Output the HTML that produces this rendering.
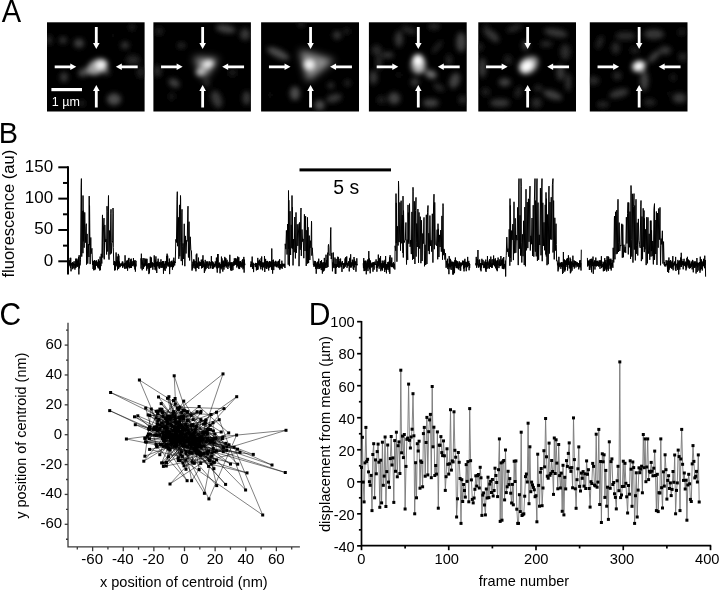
<!DOCTYPE html>
<html><head><meta charset="utf-8"><style>
html,body{margin:0;padding:0;background:#fff;width:720px;height:590px;overflow:hidden}
svg{display:block;will-change:transform}
text{font-family:"Liberation Sans", sans-serif;fill:#000}
</style></head><body>
<svg width="720" height="590" viewBox="0 0 720 590">
<rect width="720" height="590" fill="#fff"/>
<text font-size="30.6" transform="translate(1.74,22.00) scale(0.95,1)" >A</text>
<text font-size="30.4" transform="translate(-1.37,142.70) scale(0.95,1)" >B</text>
<text font-size="31.2" transform="translate(-0.43,325.03) scale(0.96,1)" >C</text>
<text font-size="31.0" transform="translate(308.63,325.20) scale(0.97,1)" >D</text>
<defs>
<filter id="bl" x="-20%" y="-20%" width="140%" height="140%"><feGaussianBlur stdDeviation="2.4"/></filter>
<filter id="bl2" x="-50%" y="-50%" width="200%" height="200%"><feGaussianBlur stdDeviation="1.4"/></filter>
<filter id="bl3" x="-50%" y="-50%" width="200%" height="200%"><feGaussianBlur stdDeviation="3.2"/></filter>
<clipPath id="c0"><rect x="47.0" y="22.3" width="97.6" height="89.2"/></clipPath>
<clipPath id="c1"><rect x="153.4" y="22.3" width="97.5" height="89.2"/></clipPath>
<clipPath id="c2"><rect x="261.1" y="22.3" width="97.89999999999998" height="89.2"/></clipPath>
<clipPath id="c3"><rect x="368.9" y="22.3" width="97.80000000000001" height="89.2"/></clipPath>
<clipPath id="c4"><rect x="478.3" y="22.3" width="97.69999999999999" height="89.2"/></clipPath>
<clipPath id="c5"><rect x="589.8" y="22.3" width="97.70000000000005" height="89.2"/></clipPath>
</defs>
<rect x="47.0" y="22.3" width="97.60" height="89.20" fill="#000"/>
<g clip-path="url(#c0)"><g filter="url(#bl)">
<ellipse cx="113.0" cy="35.3" rx="2" ry="2" transform="rotate(0 113.0 35.3)" fill="rgb(26,26,26)"/>
<ellipse cx="141.0" cy="72.3" rx="4" ry="6" transform="rotate(0 141.0 72.3)" fill="rgb(33,33,33)"/>
<ellipse cx="82.0" cy="103.3" rx="3" ry="3" transform="rotate(0 82.0 103.3)" fill="rgb(33,33,33)"/>
<ellipse cx="132.0" cy="27.3" rx="3" ry="3" transform="rotate(0 132.0 27.3)" fill="rgb(40,40,40)"/>
<ellipse cx="133.0" cy="60.3" rx="7" ry="5" transform="rotate(0 133.0 60.3)" fill="rgb(40,40,40)"/>
<ellipse cx="49.0" cy="40.3" rx="3" ry="5" transform="rotate(0 49.0 40.3)" fill="rgb(44,44,44)"/>
<ellipse cx="63.0" cy="40.3" rx="4" ry="3.5" transform="rotate(0 63.0 40.3)" fill="rgb(49,49,49)"/>
<ellipse cx="107.0" cy="72.3" rx="3" ry="3" transform="rotate(0 107.0 72.3)" fill="rgb(56,56,56)"/>
<ellipse cx="125.0" cy="45.3" rx="4" ry="3.5" transform="rotate(0 125.0 45.3)" fill="rgb(56,56,56)"/>
<ellipse cx="64.0" cy="77.3" rx="4" ry="5" transform="rotate(0 64.0 77.3)" fill="rgb(56,56,56)"/>
<ellipse cx="91.0" cy="71.3" rx="6" ry="3" transform="rotate(0 91.0 71.3)" fill="rgb(67,67,67)"/>
<ellipse cx="79.0" cy="43.3" rx="5" ry="4.5" transform="rotate(0 79.0 43.3)" fill="rgb(67,67,67)"/>
<ellipse cx="84.0" cy="72.3" rx="6" ry="4" transform="rotate(-20 84.0 72.3)" fill="rgb(78,78,78)"/>
<ellipse cx="114.0" cy="99.3" rx="7" ry="6" transform="rotate(0 114.0 99.3)" fill="rgb(78,78,78)"/>
<ellipse cx="97.5" cy="66.8" rx="11" ry="7.5" transform="rotate(-25 97.5 66.8)" fill="rgb(158,158,158)"/>
<ellipse cx="101.0" cy="64.8" rx="5.5" ry="4.5" transform="rotate(-20 101.0 64.8)" fill="rgb(242,242,242)"/>
</g></g>
<path d="M94.89999999999999,26.9 L97.7,26.9 L97.7,43.0 L99.6,43.0 L96.3,49.0 L93.0,43.0 L94.89999999999999,43.0 Z" fill="#fff"/>
<path d="M94.89999999999999,107.6 L97.7,107.6 L97.7,91.0 L99.6,91.0 L96.3,85.0 L93.0,91.0 L94.89999999999999,91.0 Z" fill="#fff"/>
<path d="M54.699999999999996,65.39999999999999 L70.3,65.39999999999999 L70.3,63.5 L76.3,66.8 L70.3,70.1 L70.3,68.2 L54.699999999999996,68.2 Z" fill="#fff"/>
<path d="M137.7,65.39999999999999 L121.8,65.39999999999999 L121.8,63.5 L115.8,66.8 L121.8,70.1 L121.8,68.2 L137.7,68.2 Z" fill="#fff"/>
<rect x="153.4" y="22.3" width="97.50" height="89.20" fill="#000"/>
<g clip-path="url(#c1)"><g filter="url(#bl)">
<g filter="url(#bl3)">
<polygon points="193.4,57.3 218.4,58.8 204.4,79.3" fill="rgb(158,158,158)"/>
</g>
<ellipse cx="232.4" cy="72.6" rx="4" ry="4" transform="rotate(0 232.4 72.6)" fill="rgb(26,26,26)"/>
<ellipse cx="171.7" cy="96.6" rx="3" ry="3" transform="rotate(0 171.7 96.6)" fill="rgb(33,33,33)"/>
<ellipse cx="159.0" cy="31.2" rx="4" ry="4" transform="rotate(0 159.0 31.2)" fill="rgb(33,33,33)"/>
<ellipse cx="157.4" cy="71.0" rx="4" ry="6" transform="rotate(0 157.4 71.0)" fill="rgb(44,44,44)"/>
<ellipse cx="181.3" cy="45.5" rx="4" ry="3" transform="rotate(0 181.3 45.5)" fill="rgb(44,44,44)"/>
<ellipse cx="206.8" cy="83.8" rx="3" ry="3" transform="rotate(0 206.8 83.8)" fill="rgb(44,44,44)"/>
<ellipse cx="216.6" cy="99.3" rx="5" ry="9" transform="rotate(-20 216.6 99.3)" fill="rgb(56,56,56)"/>
<ellipse cx="245.1" cy="34.3" rx="5" ry="6" transform="rotate(0 245.1 34.3)" fill="rgb(56,56,56)"/>
<ellipse cx="246.7" cy="98.1" rx="4" ry="7" transform="rotate(0 246.7 98.1)" fill="rgb(56,56,56)"/>
<ellipse cx="174.1" cy="83.0" rx="6" ry="4" transform="rotate(30 174.1 83.0)" fill="rgb(67,67,67)"/>
<ellipse cx="225.6" cy="28.8" rx="10" ry="4" transform="rotate(10 225.6 28.8)" fill="rgb(67,67,67)"/>
<ellipse cx="204.4" cy="67.3" rx="5" ry="5" transform="rotate(0 204.4 67.3)" fill="rgb(153,153,153)"/>
<ellipse cx="200.4" cy="72.3" rx="4.5" ry="3.5" transform="rotate(0 200.4 72.3)" fill="rgb(191,191,191)"/>
<ellipse cx="208.4" cy="63.9" rx="5.5" ry="4" transform="rotate(-10 208.4 63.9)" fill="rgb(234,234,234)"/>
</g></g>
<path d="M201.25,26.9 L204.05,26.9 L204.05,43.0 L205.95000000000002,43.0 L202.65,49.0 L199.35,43.0 L201.25,43.0 Z" fill="#fff"/>
<path d="M201.25,107.6 L204.05,107.6 L204.05,91.0 L205.95000000000002,91.0 L202.65,85.0 L199.35,91.0 L201.25,91.0 Z" fill="#fff"/>
<path d="M161.05,65.39999999999999 L176.65,65.39999999999999 L176.65,63.5 L182.65,66.8 L176.65,70.1 L176.65,68.2 L161.05,68.2 Z" fill="#fff"/>
<path d="M244.05,65.39999999999999 L228.15,65.39999999999999 L228.15,63.5 L222.15,66.8 L228.15,70.1 L228.15,68.2 L244.05,68.2 Z" fill="#fff"/>
<rect x="261.1" y="22.3" width="97.90" height="89.20" fill="#000"/>
<g clip-path="url(#c2)"><g filter="url(#bl)">
<g filter="url(#bl3)">
<polygon points="299.6,50.3 334.1,60.3 307.6,81.3" fill="rgb(158,158,158)"/>
</g>
<ellipse cx="270.2" cy="95.0" rx="2" ry="2" transform="rotate(0 270.2 95.0)" fill="rgb(26,26,26)"/>
<ellipse cx="346.7" cy="31.2" rx="3" ry="3" transform="rotate(0 346.7 31.2)" fill="rgb(33,33,33)"/>
<ellipse cx="347.5" cy="83.0" rx="3" ry="3" transform="rotate(0 347.5 83.0)" fill="rgb(44,44,44)"/>
<ellipse cx="301.3" cy="24.0" rx="3" ry="3" transform="rotate(0 301.3 24.0)" fill="rgb(44,44,44)"/>
<ellipse cx="330.8" cy="85.4" rx="3" ry="3" transform="rotate(0 330.8 85.4)" fill="rgb(56,56,56)"/>
<ellipse cx="334.0" cy="98.2" rx="8" ry="4" transform="rotate(-15 334.0 98.2)" fill="rgb(56,56,56)"/>
<ellipse cx="337.1" cy="35.2" rx="4" ry="4" transform="rotate(0 337.1 35.2)" fill="rgb(56,56,56)"/>
<ellipse cx="278.1" cy="53.5" rx="12" ry="4" transform="rotate(25 278.1 53.5)" fill="rgb(78,78,78)"/>
<ellipse cx="294.9" cy="93.4" rx="5" ry="7" transform="rotate(0 294.9 93.4)" fill="rgb(78,78,78)"/>
<ellipse cx="319.6" cy="105.3" rx="5" ry="5" transform="rotate(0 319.6 105.3)" fill="rgb(78,78,78)"/>
<ellipse cx="311.1" cy="64.3" rx="8" ry="7" transform="rotate(0 311.1 64.3)" fill="rgb(127,127,127)"/>
<ellipse cx="309.2" cy="64.7" rx="5.5" ry="5" transform="rotate(0 309.2 64.7)" fill="rgb(242,242,242)"/>
</g></g>
<path d="M309.15000000000003,26.9 L311.95,26.9 L311.95,43.0 L313.85,43.0 L310.55,49.0 L307.25,43.0 L309.15000000000003,43.0 Z" fill="#fff"/>
<path d="M309.15000000000003,107.6 L311.95,107.6 L311.95,91.0 L313.85,91.0 L310.55,85.0 L307.25,91.0 L309.15000000000003,91.0 Z" fill="#fff"/>
<path d="M268.95,65.39999999999999 L284.55,65.39999999999999 L284.55,63.5 L290.55,66.8 L284.55,70.1 L284.55,68.2 L268.95,68.2 Z" fill="#fff"/>
<path d="M351.95,65.39999999999999 L336.05,65.39999999999999 L336.05,63.5 L330.05,66.8 L336.05,70.1 L336.05,68.2 L351.95,68.2 Z" fill="#fff"/>
<rect x="368.9" y="22.3" width="97.80" height="89.20" fill="#000"/>
<g clip-path="url(#c3)"><g filter="url(#bl)">
<ellipse cx="381.4" cy="99.7" rx="4" ry="4" transform="rotate(0 381.4 99.7)" fill="rgb(33,33,33)"/>
<ellipse cx="398.9" cy="75.0" rx="2" ry="2" transform="rotate(0 398.9 75.0)" fill="rgb(33,33,33)"/>
<ellipse cx="448.9" cy="60.3" rx="3" ry="6" transform="rotate(0 448.9 60.3)" fill="rgb(40,40,40)"/>
<ellipse cx="437.2" cy="47.1" rx="2" ry="8" transform="rotate(40 437.2 47.1)" fill="rgb(44,44,44)"/>
<ellipse cx="376.6" cy="50.3" rx="5" ry="5" transform="rotate(0 376.6 50.3)" fill="rgb(44,44,44)"/>
<ellipse cx="378.9" cy="62.3" rx="3" ry="8" transform="rotate(0 378.9 62.3)" fill="rgb(44,44,44)"/>
<ellipse cx="408.9" cy="30.3" rx="8" ry="3" transform="rotate(20 408.9 30.3)" fill="rgb(44,44,44)"/>
<ellipse cx="438.9" cy="87.3" rx="6" ry="3" transform="rotate(30 438.9 87.3)" fill="rgb(44,44,44)"/>
<ellipse cx="462.7" cy="99.7" rx="4" ry="4" transform="rotate(0 462.7 99.7)" fill="rgb(44,44,44)"/>
<ellipse cx="434.0" cy="26.4" rx="6" ry="3" transform="rotate(0 434.0 26.4)" fill="rgb(44,44,44)"/>
<ellipse cx="414.9" cy="82.2" rx="4" ry="4" transform="rotate(0 414.9 82.2)" fill="rgb(56,56,56)"/>
<ellipse cx="373.4" cy="77.4" rx="4" ry="7" transform="rotate(0 373.4 77.4)" fill="rgb(56,56,56)"/>
<ellipse cx="398.9" cy="39.1" rx="4" ry="8" transform="rotate(0 398.9 39.1)" fill="rgb(56,56,56)"/>
<ellipse cx="387.7" cy="55.1" rx="6" ry="3" transform="rotate(0 387.7 55.1)" fill="rgb(56,56,56)"/>
<ellipse cx="461.1" cy="42.3" rx="5" ry="10" transform="rotate(0 461.1 42.3)" fill="rgb(67,67,67)"/>
<ellipse cx="454.7" cy="80.6" rx="5" ry="8" transform="rotate(20 454.7 80.6)" fill="rgb(67,67,67)"/>
<ellipse cx="394.1" cy="98.2" rx="6" ry="6" transform="rotate(0 394.1 98.2)" fill="rgb(67,67,67)"/>
<ellipse cx="430.8" cy="102.9" rx="8" ry="4" transform="rotate(0 430.8 102.9)" fill="rgb(67,67,67)"/>
<ellipse cx="430.8" cy="74.2" rx="6" ry="4" transform="rotate(20 430.8 74.2)" fill="rgb(114,114,114)"/>
<ellipse cx="418.4" cy="65.3" rx="8" ry="9" transform="rotate(0 418.4 65.3)" fill="rgb(127,127,127)"/>
<ellipse cx="418.9" cy="67.3" rx="4.5" ry="4.5" transform="rotate(0 418.9 67.3)" fill="rgb(191,191,191)"/>
<ellipse cx="418.0" cy="59.8" rx="5.5" ry="5.5" transform="rotate(0 418.0 59.8)" fill="rgb(255,255,255)"/>
</g></g>
<path d="M416.9,26.9 L419.69999999999993,26.9 L419.69999999999993,43.0 L421.59999999999997,43.0 L418.29999999999995,49.0 L414.99999999999994,43.0 L416.9,43.0 Z" fill="#fff"/>
<path d="M416.9,107.6 L419.69999999999993,107.6 L419.69999999999993,91.0 L421.59999999999997,91.0 L418.29999999999995,85.0 L414.99999999999994,91.0 L416.9,91.0 Z" fill="#fff"/>
<path d="M376.69999999999993,65.39999999999999 L392.29999999999995,65.39999999999999 L392.29999999999995,63.5 L398.29999999999995,66.8 L392.29999999999995,70.1 L392.29999999999995,68.2 L376.69999999999993,68.2 Z" fill="#fff"/>
<path d="M459.69999999999993,65.39999999999999 L443.79999999999995,65.39999999999999 L443.79999999999995,63.5 L437.79999999999995,66.8 L443.79999999999995,70.1 L443.79999999999995,68.2 L459.69999999999993,68.2 Z" fill="#fff"/>
<rect x="478.3" y="22.3" width="97.70" height="89.20" fill="#000"/>
<g clip-path="url(#c4)"><g filter="url(#bl)">
<ellipse cx="485.6" cy="91.8" rx="4" ry="4" transform="rotate(0 485.6 91.8)" fill="rgb(33,33,33)"/>
<ellipse cx="479.2" cy="47.1" rx="4" ry="4" transform="rotate(0 479.2 47.1)" fill="rgb(33,33,33)"/>
<ellipse cx="507.9" cy="59.9" rx="4" ry="5" transform="rotate(0 507.9 59.9)" fill="rgb(33,33,33)"/>
<ellipse cx="486.3" cy="30.3" rx="3" ry="6" transform="rotate(0 486.3 30.3)" fill="rgb(40,40,40)"/>
<ellipse cx="518.3" cy="92.3" rx="3" ry="6" transform="rotate(20 518.3 92.3)" fill="rgb(40,40,40)"/>
<ellipse cx="546.2" cy="43.9" rx="6" ry="3" transform="rotate(0 546.2 43.9)" fill="rgb(44,44,44)"/>
<ellipse cx="565.3" cy="51.9" rx="5" ry="8" transform="rotate(0 565.3 51.9)" fill="rgb(44,44,44)"/>
<ellipse cx="514.3" cy="28.3" rx="8" ry="3" transform="rotate(-20 514.3 28.3)" fill="rgb(44,44,44)"/>
<ellipse cx="538.3" cy="88.3" rx="4" ry="3" transform="rotate(0 538.3 88.3)" fill="rgb(44,44,44)"/>
<ellipse cx="536.6" cy="102.9" rx="5" ry="5" transform="rotate(0 536.6 102.9)" fill="rgb(44,44,44)"/>
<ellipse cx="568.3" cy="82.3" rx="3" ry="9" transform="rotate(0 568.3 82.3)" fill="rgb(49,49,49)"/>
<ellipse cx="492.7" cy="35.9" rx="8" ry="4" transform="rotate(45 492.7 35.9)" fill="rgb(56,56,56)"/>
<ellipse cx="555.8" cy="32.8" rx="12" ry="4" transform="rotate(10 555.8 32.8)" fill="rgb(56,56,56)"/>
<ellipse cx="560.5" cy="72.6" rx="4" ry="8" transform="rotate(0 560.5 72.6)" fill="rgb(56,56,56)"/>
<ellipse cx="482.4" cy="67.8" rx="4" ry="10" transform="rotate(0 482.4 67.8)" fill="rgb(56,56,56)"/>
<ellipse cx="499.9" cy="102.9" rx="10" ry="4" transform="rotate(0 499.9 102.9)" fill="rgb(56,56,56)"/>
<ellipse cx="525.4" cy="45.5" rx="3" ry="5" transform="rotate(0 525.4 45.5)" fill="rgb(67,67,67)"/>
<ellipse cx="552.6" cy="95.0" rx="10" ry="4" transform="rotate(20 552.6 95.0)" fill="rgb(67,67,67)"/>
<ellipse cx="504.7" cy="82.2" rx="6" ry="4" transform="rotate(0 504.7 82.2)" fill="rgb(67,67,67)"/>
<ellipse cx="528.3" cy="65.3" rx="11" ry="8.5" transform="rotate(-35 528.3 65.3)" fill="rgb(127,127,127)"/>
<ellipse cx="533.3" cy="60.3" rx="5" ry="4" transform="rotate(0 533.3 60.3)" fill="rgb(140,140,140)"/>
<ellipse cx="527.0" cy="66.2" rx="7" ry="5" transform="rotate(-35 527.0 66.2)" fill="rgb(255,255,255)"/>
</g></g>
<path d="M526.25,26.9 L529.05,26.9 L529.05,43.0 L530.9499999999999,43.0 L527.65,49.0 L524.35,43.0 L526.25,43.0 Z" fill="#fff"/>
<path d="M526.25,107.6 L529.05,107.6 L529.05,91.0 L530.9499999999999,91.0 L527.65,85.0 L524.35,91.0 L526.25,91.0 Z" fill="#fff"/>
<path d="M486.04999999999995,65.39999999999999 L501.65,65.39999999999999 L501.65,63.5 L507.65,66.8 L501.65,70.1 L501.65,68.2 L486.04999999999995,68.2 Z" fill="#fff"/>
<path d="M569.05,65.39999999999999 L553.15,65.39999999999999 L553.15,63.5 L547.15,66.8 L553.15,70.1 L553.15,68.2 L569.05,68.2 Z" fill="#fff"/>
<rect x="589.8" y="22.3" width="97.70" height="89.20" fill="#000"/>
<g clip-path="url(#c5)"><g filter="url(#bl)">
<ellipse cx="668.3" cy="93.4" rx="2" ry="2" transform="rotate(0 668.3 93.4)" fill="rgb(26,26,26)"/>
<ellipse cx="673.1" cy="77.4" rx="3" ry="3" transform="rotate(0 673.1 77.4)" fill="rgb(33,33,33)"/>
<ellipse cx="681.8" cy="32.3" rx="4" ry="3" transform="rotate(0 681.8 32.3)" fill="rgb(33,33,33)"/>
<ellipse cx="634.8" cy="50.3" rx="5" ry="3" transform="rotate(0 634.8 50.3)" fill="rgb(33,33,33)"/>
<ellipse cx="599.8" cy="42.3" rx="3" ry="7" transform="rotate(20 599.8 42.3)" fill="rgb(40,40,40)"/>
<ellipse cx="625.3" cy="35.9" rx="10" ry="4" transform="rotate(0 625.3 35.9)" fill="rgb(44,44,44)"/>
<ellipse cx="615.7" cy="47.9" rx="4" ry="6" transform="rotate(0 615.7 47.9)" fill="rgb(44,44,44)"/>
<ellipse cx="682.7" cy="56.7" rx="4" ry="4" transform="rotate(0 682.7 56.7)" fill="rgb(44,44,44)"/>
<ellipse cx="593.4" cy="80.6" rx="6" ry="4" transform="rotate(0 593.4 80.6)" fill="rgb(44,44,44)"/>
<ellipse cx="617.3" cy="75.8" rx="4" ry="4" transform="rotate(0 617.3 75.8)" fill="rgb(44,44,44)"/>
<ellipse cx="602.9" cy="104.5" rx="6" ry="3" transform="rotate(0 602.9 104.5)" fill="rgb(44,44,44)"/>
<ellipse cx="649.8" cy="102.3" rx="6" ry="3" transform="rotate(0 649.8 102.3)" fill="rgb(44,44,44)"/>
<ellipse cx="665.1" cy="50.3" rx="6" ry="4" transform="rotate(0 665.1 50.3)" fill="rgb(56,56,56)"/>
<ellipse cx="654.0" cy="34.3" rx="10" ry="5" transform="rotate(0 654.0 34.3)" fill="rgb(56,56,56)"/>
<ellipse cx="618.9" cy="93.4" rx="10" ry="4" transform="rotate(-15 618.9 93.4)" fill="rgb(56,56,56)"/>
<ellipse cx="679.5" cy="98.1" rx="7" ry="5" transform="rotate(0 679.5 98.1)" fill="rgb(56,56,56)"/>
<ellipse cx="654.0" cy="56.7" rx="8" ry="3" transform="rotate(-45 654.0 56.7)" fill="rgb(67,67,67)"/>
<ellipse cx="644.4" cy="80.6" rx="4" ry="10" transform="rotate(0 644.4 80.6)" fill="rgb(67,67,67)"/>
<ellipse cx="638.8" cy="66.2" rx="7.5" ry="6" transform="rotate(-20 638.8 66.2)" fill="rgb(127,127,127)"/>
<ellipse cx="638.8" cy="66.2" rx="5.5" ry="4.2" transform="rotate(-20 638.8 66.2)" fill="rgb(255,255,255)"/>
</g></g>
<path d="M637.75,26.9 L640.55,26.9 L640.55,43.0 L642.4499999999999,43.0 L639.15,49.0 L635.85,43.0 L637.75,43.0 Z" fill="#fff"/>
<path d="M637.75,107.6 L640.55,107.6 L640.55,91.0 L642.4499999999999,91.0 L639.15,85.0 L635.85,91.0 L637.75,91.0 Z" fill="#fff"/>
<path d="M597.55,65.39999999999999 L613.15,65.39999999999999 L613.15,63.5 L619.15,66.8 L613.15,70.1 L613.15,68.2 L597.55,68.2 Z" fill="#fff"/>
<path d="M680.55,65.39999999999999 L664.65,65.39999999999999 L664.65,63.5 L658.65,66.8 L664.65,70.1 L664.65,68.2 L680.55,68.2 Z" fill="#fff"/>
<rect x="51.4" y="88" width="30.6" height="3.2" fill="#fff"/>
<text font-size="12.8" transform="translate(51.75,105.71) scale(0.98,1)" style="fill:#fff">1 µm</text>
<g stroke="#000" stroke-width="2" fill="none" stroke-linecap="butt">
<path d="M68,166.2 L68,274.5"/>
<path d="M58.3,261.30 L68,261.30"/>
<path d="M58.3,229.97 L68,229.97"/>
<path d="M58.3,198.63 L68,198.63"/>
<path d="M58.3,167.30 L68,167.30"/>
<path d="M63,245.63 L68,245.63"/>
<path d="M63,214.30 L68,214.30"/>
<path d="M63,182.96 L68,182.96"/>
</g>
<text font-size="16.5" transform="translate(43.71,265.78) scale(1.03,1)" >0</text>
<text font-size="16.5" transform="translate(34.26,234.44) scale(1.03,1)" >50</text>
<text font-size="16.5" transform="translate(24.82,203.11) scale(1.03,1)" >100</text>
<text font-size="16.5" transform="translate(24.82,171.77) scale(1.03,1)" >150</text>
<text font-size="17.045" transform="translate(13.60,277.53) rotate(-90) scale(0.9709,1)" >fluorescence (au)</text>
<rect x="299.5" y="168.4" width="91.5" height="3.0" fill="#000"/>
<text font-size="19.6" transform="translate(333.22,194.00) scale(0.99,1)" >5 s</text>
<path d="M68.50,263.4 L68.78,266.5 L69.06,260.8 L69.34,265.3 L69.62,260.3 L69.90,265.4 L70.18,257.9 L70.46,267.8 L70.74,257.8 L71.02,271.3 L71.30,263.2 L71.58,264.6 L71.86,263.2 L72.14,266.0 L72.42,262.2 L72.70,269.2 L72.98,263.1 L73.26,264.9 L73.54,262.7 L73.82,268.2 L74.10,261.2 L74.38,265.4 L74.66,264.2 L74.94,269.6 L75.22,264.0 L75.50,267.7 L75.78,258.7 L76.06,267.7 L76.34,258.7 L76.62,265.9 L76.90,262.0 L77.18,266.8 L77.46,260.6 L77.74,266.5 L78.02,258.7 L78.30,265.4 L78.58,256.9 L78.86,274.4 L79.14,255.2 L79.42,268.3 L79.70,263.4 L79.98,265.4 L80.26,264.4 L80.54,259.9 L81.14,187.8 L81.40,178.6 L81.70,247.2 L81.74,256.6 L82.34,210.9 L82.94,253.2 L83.00,195.5 L83.30,241.4 L83.54,210.7 L84.14,247.7 L84.74,212.4 L85.34,242.7 L85.94,226.6 L86.30,223.7 L86.54,264.6 L86.60,245.3 L87.14,233.9 L87.74,263.6 L88.34,244.1 L88.94,257.0 L89.20,196.1 L89.50,245.1 L89.54,205.6 L90.14,264.1 L90.74,238.1 L90.80,237.5 L91.10,253.8 L91.34,252.0 L91.94,248.3 L92.54,264.8 L92.82,260.5 L93.10,269.0 L93.38,261.1 L93.66,270.3 L93.94,263.1 L94.22,266.9 L94.50,260.1 L94.78,270.1 L95.06,263.7 L95.34,269.2 L95.62,261.3 L95.90,265.0 L96.18,260.3 L96.46,265.6 L96.74,260.8 L97.02,265.5 L97.30,263.6 L97.58,267.0 L97.86,262.0 L98.14,268.2 L98.42,259.4 L98.70,267.4 L98.98,264.4 L99.26,268.9 L99.54,260.9 L99.82,270.6 L100.10,256.6 L100.38,270.0 L100.66,262.9 L100.94,266.1 L101.22,253.8 L101.82,263.5 L102.42,216.5 L102.50,214.9 L102.80,257.6 L103.02,242.8 L103.62,225.1 L104.00,218.1 L104.22,259.3 L104.30,255.7 L104.82,224.9 L105.42,241.9 L106.02,239.1 L106.62,254.5 L107.00,206.2 L107.22,211.4 L107.30,251.4 L107.82,251.3 L108.42,197.8 L108.50,195.5 L108.80,256.2 L109.02,259.6 L109.62,230.5 L110.22,254.4 L110.82,213.3 L111.00,209.3 L111.30,242.5 L111.42,253.4 L112.02,243.4 L112.62,240.9 L113.00,208.0 L113.22,213.1 L113.30,247.7 L113.82,265.1 L114.42,261.1 L114.70,270.5 L114.98,263.2 L115.26,270.1 L115.54,261.7 L115.82,265.0 L116.10,252.5 L116.38,265.4 L116.66,260.1 L116.94,266.4 L117.22,256.5 L117.50,270.2 L117.78,260.9 L118.06,264.8 L118.34,253.9 L118.62,268.9 L118.90,255.6 L119.18,266.3 L119.46,261.6 L119.74,267.4 L120.02,264.3 L120.30,266.7 L120.58,263.9 L120.86,266.1 L121.14,263.1 L121.42,265.1 L121.70,263.9 L121.98,266.0 L122.26,261.6 L122.54,267.7 L122.82,261.6 L123.10,265.8 L123.38,264.3 L123.66,266.3 L123.94,263.4 L124.22,267.7 L124.50,263.3 L124.78,268.9 L125.06,255.3 L125.34,264.8 L125.62,262.8 L125.90,268.6 L126.18,262.7 L126.46,268.2 L126.74,260.8 L127.02,267.4 L127.30,260.3 L127.58,270.7 L127.86,261.4 L128.14,266.5 L128.42,258.6 L128.70,267.2 L128.98,257.9 L129.26,268.3 L129.54,263.8 L129.82,267.3 L130.10,262.1 L130.38,268.0 L130.66,259.5 L130.94,265.3 L131.22,258.7 L131.50,267.9 L131.78,261.8 L132.06,264.5 L132.34,264.3 L132.62,266.1 L132.90,261.1 L133.18,264.9 L133.46,258.0 L133.74,265.6 L134.02,261.6 L134.30,267.1 L134.58,260.7 L134.86,269.5 L135.14,260.2 L135.42,271.6 L135.70,263.6 L135.98,266.4 L136.26,260.8" stroke="#000" stroke-width="1.0" fill="none"/>
<path d="M140.80,258.3 L141.08,268.6 L141.36,253.7 L141.64,264.5 L141.92,259.8 L142.20,270.3 L142.48,261.8 L142.76,265.1 L143.04,258.1 L143.32,269.0 L143.60,263.7 L143.88,267.2 L144.16,258.3 L144.44,266.4 L144.72,263.4 L145.00,266.1 L145.28,259.6 L145.56,265.1 L145.84,258.6 L146.12,265.6 L146.40,259.8 L146.68,270.6 L146.96,258.8 L147.24,265.1 L147.52,264.1 L147.80,268.7 L148.08,263.6 L148.36,267.0 L148.64,263.5 L148.92,274.1 L149.20,263.0 L149.48,272.7 L149.76,264.0 L150.04,268.1 L150.32,256.7 L150.60,267.6 L150.88,263.4 L151.16,267.5 L151.44,257.5 L151.72,265.5 L152.00,262.7 L152.28,267.1 L152.56,262.5 L152.84,269.7 L153.12,264.4 L153.40,264.6 L153.68,263.2 L153.96,266.5 L154.24,255.4 L154.52,267.0 L154.80,264.3 L155.08,269.8 L155.36,259.6 L155.64,269.1 L155.92,256.4 L156.20,270.7 L156.48,262.4 L156.76,273.0 L157.04,261.7 L157.32,266.3 L157.60,261.7 L157.88,264.8 L158.16,258.7 L158.44,266.3 L158.72,263.0 L159.00,268.3 L159.28,261.9 L159.56,268.7 L159.84,264.3 L160.12,267.5 L160.40,262.5 L160.68,264.7 L160.96,259.3 L161.24,267.9 L161.52,262.3 L161.80,265.2 L162.08,263.2 L162.36,267.7 L162.64,261.1 L162.92,265.1 L163.20,261.4 L163.48,273.7 L163.76,261.2 L164.04,265.4 L164.32,264.3 L164.60,269.6 L164.88,263.6 L165.16,271.0 L165.44,261.2 L165.72,264.5 L166.00,262.5 L166.28,268.3 L166.56,255.9 L166.84,264.8 L167.12,253.7 L167.40,265.4 L167.68,255.6 L167.96,266.5 L168.24,262.3 L168.52,265.6 L168.80,263.5 L169.08,266.6 L169.36,258.6 L169.64,274.1 L169.92,262.0 L170.20,267.3 L170.48,264.0 L170.76,265.4 L171.04,261.2 L171.32,266.3 L171.60,260.8 L171.88,267.0 L172.16,263.2 L172.44,269.7 L172.72,261.6 L173.00,264.8 L173.28,259.8 L173.56,267.2 L173.84,257.7 L174.12,264.7 L174.40,261.1 L174.68,265.5 L174.96,261.8 L175.24,263.0 L175.84,239.4 L176.44,242.5 L177.04,199.5 L177.30,191.7 L177.60,246.2 L177.64,246.2 L178.24,222.3 L178.50,217.4 L178.80,256.3 L178.84,258.8 L179.44,206.3 L179.50,204.9 L179.80,256.3 L180.04,244.2 L180.50,195.5 L180.64,199.4 L180.80,242.7 L181.24,261.1 L181.84,212.9 L182.00,209.3 L182.30,246.3 L182.44,265.2 L183.04,243.4 L183.64,259.0 L184.24,223.8 L184.84,266.2 L185.44,235.9 L186.04,253.5 L186.64,240.3 L187.24,241.3 L187.84,209.9 L188.00,206.2 L188.30,252.8 L188.44,257.5 L189.04,221.7 L189.64,260.5 L190.24,236.8 L190.84,249.9 L191.44,250.9 L192.04,270.6 L192.32,264.4 L192.60,269.2 L192.88,261.7 L193.16,267.8 L193.44,259.6 L193.72,265.8 L194.00,259.5 L194.28,265.4 L194.56,261.6 L194.84,268.3 L195.12,261.0 L195.40,269.1 L195.68,264.2 L195.96,271.3 L196.24,254.5 L196.52,267.6 L196.80,253.6 L197.08,266.3 L197.36,262.7 L197.64,267.9 L197.92,262.8 L198.20,264.9 L198.48,257.6 L198.76,269.0 L199.04,261.3 L199.32,266.1 L199.60,262.4 L199.88,266.0 L200.16,262.3 L200.44,265.5 L200.72,262.2 L201.00,265.8 L201.28,259.7 L201.56,268.4 L201.84,261.4 L202.12,267.6 L202.40,259.2 L202.68,267.9 L202.96,255.3 L203.24,267.0 L203.52,261.2 L203.80,266.1 L204.08,262.5 L204.36,272.9 L204.64,264.1 L204.92,271.2 L205.20,259.9 L205.48,269.4 L205.76,264.0 L206.04,269.1 L206.32,261.5 L206.60,266.4 L206.88,261.9 L207.16,268.0 L207.44,261.5 L207.72,265.1 L208.00,262.5 L208.28,265.7 L208.56,264.3 L208.84,269.0 L209.12,261.3 L209.40,265.1 L209.68,261.7 L209.96,265.6 L210.24,262.2 L210.52,268.3 L210.80,264.0 L211.08,265.8 L211.36,256.1 L211.64,264.5 L211.92,263.3 L212.20,268.5 L212.48,261.5 L212.76,269.0 L213.04,261.9 L213.32,268.4 L213.60,263.0 L213.88,267.3 L214.16,264.2 L214.44,266.8 L214.72,263.8 L215.00,267.3 L215.28,261.4 L215.56,265.6 L215.84,264.4 L216.12,265.1 L216.40,257.6 L216.68,268.3 L216.96,264.3 L217.24,272.6 L217.52,254.1 L217.80,268.3 L218.08,254.0 L218.36,266.5 L218.64,263.2 L218.92,267.8 L219.20,263.0 L219.48,267.0 L219.76,262.5 L220.04,273.3 L220.32,264.3 L220.60,267.9 L220.88,264.3 L221.16,269.3 L221.44,256.6 L221.72,267.8 L222.00,258.4 L222.28,266.9 L222.56,261.6 L222.84,271.6 L223.12,260.5 L223.40,267.1 L223.68,261.6 L223.96,269.6 L224.24,264.1 L224.52,266.7 L224.80,256.9 L225.08,264.6 L225.36,258.8 L225.64,266.2 L225.92,258.2 L226.20,267.6 L226.48,261.6 L226.76,266.3 L227.04,259.8 L227.32,265.6 L227.60,263.0 L227.88,269.0 L228.16,261.8 L228.44,266.5 L228.72,264.1 L229.00,265.5 L229.28,263.0 L229.56,265.2 L229.84,254.8 L230.12,267.8 L230.40,263.0 L230.68,270.4 L230.96,262.0 L231.24,269.1 L231.52,263.1 L231.80,270.8 L232.08,262.0 L232.36,266.5 L232.64,263.6 L232.92,270.1 L233.20,264.2 L233.48,265.6 L233.76,261.3 L234.04,265.7 L234.32,258.3 L234.60,264.6 L234.88,260.0 L235.16,264.7 L235.44,258.4 L235.72,264.4 L236.00,258.3 L236.28,264.9 L236.56,259.4 L236.84,267.5 L237.12,264.0 L237.40,266.1 L237.68,256.5 L237.96,265.0 L238.24,257.9 L238.52,268.2 L238.80,257.2 L239.08,269.1 L239.36,261.4 L239.64,268.8 L239.92,263.8 L240.20,267.1 L240.48,261.1 L240.76,265.4 L241.04,261.9 L241.32,266.3 L241.60,263.3 L241.88,267.7 L242.16,260.2 L242.44,266.4 L242.72,259.2 L243.00,269.3 L243.28,262.3 L243.56,268.0 L243.84,256.9 L244.12,272.6 L244.40,259.6 L244.68,265.2 L244.96,263.8" stroke="#000" stroke-width="1.0" fill="none"/>
<path d="M250.50,264.3 L250.78,267.1 L251.06,261.4 L251.34,264.8 L251.62,262.1 L251.90,267.0 L252.18,256.6 L252.46,268.8 L252.74,263.9 L253.02,268.0 L253.30,262.8 L253.58,272.1 L253.86,264.3 L254.14,264.6 L254.42,264.1 L254.70,264.5 L254.98,263.7 L255.26,266.8 L255.54,262.9 L255.82,267.1 L256.10,263.1 L256.38,270.4 L256.66,263.4 L256.94,265.7 L257.22,263.2 L257.50,269.8 L257.78,257.9 L258.06,269.5 L258.34,261.8 L258.62,264.9 L258.90,260.6 L259.18,264.5 L259.46,259.7 L259.74,265.6 L260.02,262.2 L260.30,267.3 L260.58,261.2 L260.86,269.3 L261.14,258.1 L261.42,267.0 L261.70,256.5 L261.98,266.4 L262.26,262.5 L262.54,270.3 L262.82,262.8 L263.10,266.9 L263.38,262.6 L263.66,267.4 L263.94,264.2 L264.22,266.2 L264.50,256.0 L264.78,272.0 L265.06,262.0 L265.34,265.5 L265.62,258.9 L265.90,268.2 L266.18,262.8 L266.46,268.8 L266.74,261.1 L267.02,268.6 L267.30,260.9 L267.58,266.7 L267.86,261.9 L268.14,265.8 L268.42,263.5 L268.70,270.5 L268.98,261.7 L269.26,267.8 L269.54,261.1 L269.82,266.8 L270.10,262.4 L270.38,266.6 L270.66,261.5 L270.94,267.2 L271.22,262.1 L271.50,269.7 L271.78,248.5 L272.06,265.1 L272.34,262.6 L272.62,273.6 L272.90,260.0 L273.18,266.7 L273.46,259.7 L273.74,270.1 L274.02,261.9 L274.30,265.3 L274.58,264.3 L274.86,266.4 L275.14,261.5 L275.42,265.5 L275.70,260.8 L275.98,266.5 L276.26,264.2 L276.54,267.2 L276.82,261.7 L277.10,264.9 L277.38,263.9 L277.66,266.5 L277.94,261.5 L278.22,267.8 L278.50,260.8 L278.78,265.3 L279.06,262.6 L279.34,268.5 L279.62,259.2 L279.90,269.7 L280.18,264.0 L280.46,268.2 L280.74,264.3 L281.02,264.7 L281.30,264.3 L281.58,267.8 L281.86,260.7 L282.14,268.8 L282.42,263.6 L282.70,265.5 L282.98,264.0 L283.26,266.6 L283.54,263.8 L283.82,264.5 L284.10,264.4 L284.38,266.3 L284.66,263.8 L284.94,268.0 L285.22,243.8 L285.82,249.1 L286.42,230.4 L287.02,254.5 L287.62,224.0 L288.22,264.7 L288.50,190.5 L288.80,248.9 L288.82,200.2 L289.42,266.1 L290.00,211.2 L290.02,211.6 L290.30,247.0 L290.62,255.0 L291.22,224.8 L291.82,247.9 L292.00,195.5 L292.30,248.8 L292.42,207.3 L293.02,265.4 L293.62,239.0 L294.22,252.2 L294.82,217.0 L295.42,258.4 L296.00,212.4 L296.02,212.8 L296.30,252.9 L296.62,248.7 L297.22,224.3 L297.82,245.9 L298.42,233.0 L299.00,223.7 L299.02,266.2 L299.30,242.0 L299.62,222.4 L300.22,249.8 L300.82,212.1 L301.00,208.0 L301.30,255.9 L301.42,248.3 L302.02,229.5 L302.62,241.7 L303.22,238.9 L303.82,258.2 L304.42,214.3 L305.02,251.0 L305.62,216.2 L306.22,265.9 L306.82,230.2 L307.42,263.6 L307.50,217.4 L307.80,250.5 L308.02,227.2 L308.62,263.1 L309.22,235.6 L309.82,260.0 L310.42,240.7 L311.02,247.9 L311.50,221.2 L311.62,223.3 L311.80,255.6 L312.22,247.8 L312.82,256.1 L313.42,265.0 L313.70,264.1 L313.98,266.8 L314.26,260.9 L314.54,265.8 L314.82,263.5 L315.10,266.4 L315.38,261.0 L315.66,268.8 L315.94,262.3 L316.22,273.7 L316.50,264.1 L316.78,265.8 L317.06,262.8 L317.34,267.6 L317.62,261.8 L317.90,269.1 L318.18,261.5 L318.46,266.9 L318.74,258.7 L319.02,268.8 L319.30,264.1 L319.58,268.6 L319.86,263.6 L320.14,265.2 L320.42,261.0 L320.70,268.2 L320.98,262.3 L321.26,270.1 L321.54,260.1 L321.82,267.0 L322.10,264.4 L322.38,273.6 L322.66,262.5 L322.94,268.4 L323.22,264.4 L323.50,271.4 L323.78,262.1 L324.06,270.8 L324.34,257.9 L324.62,269.4 L324.90,262.3 L325.18,265.8 L325.46,263.3 L325.74,268.0 L326.02,254.7 L326.30,264.7 L326.58,260.0 L326.86,267.9 L327.14,261.5 L327.42,266.5 L327.70,252.7 L327.98,267.0 L328.26,246.1 L328.50,244.4 L328.80,247.4 L328.86,254.2 L329.46,254.6 L330.06,255.6 L330.66,229.5 L330.80,227.5 L331.10,255.4 L331.26,259.0 L331.86,252.9 L332.46,271.3 L332.74,262.5 L333.02,267.9 L333.30,252.5 L333.58,267.0 L333.86,264.3 L334.14,268.1 L334.42,263.8 L334.70,265.5 L334.98,257.5 L335.26,273.6 L335.54,264.1 L335.82,273.8 L336.10,258.9 L336.38,268.0 L336.66,264.3 L336.94,266.5 L337.22,264.3 L337.50,266.6 L337.78,256.7 L338.06,267.0 L338.34,257.2 L338.62,267.6 L338.90,262.7 L339.18,265.0 L339.46,261.4 L339.74,267.6 L340.02,258.9 L340.30,265.2 L340.58,258.6 L340.86,266.6 L341.14,262.3 L341.42,266.7 L341.70,263.4 L341.98,271.9 L342.26,261.0 L342.54,264.6 L342.82,263.1 L343.10,264.6 L343.38,263.3 L343.66,268.8 L343.94,263.3 L344.22,268.0 L344.50,262.8 L344.78,265.2 L345.06,258.5 L345.34,266.7 L345.62,257.3 L345.90,265.2 L346.18,257.0 L346.46,264.5 L346.74,256.4 L347.02,267.9 L347.30,262.8 L347.58,266.3 L347.86,263.9 L348.14,265.9 L348.42,261.3 L348.70,264.5 L348.98,262.5 L349.26,271.4 L349.54,258.6 L349.82,267.0 L350.10,257.7 L350.38,266.9 L350.66,254.3 L350.94,267.9 L351.22,262.3 L351.50,266.7 L351.78,262.9 L352.06,266.2 L352.34,259.7 L352.62,264.6 L352.90,259.9 L353.18,268.7 L353.46,261.7 L353.74,270.0 L354.02,257.0 L354.30,267.4 L354.58,259.6 L354.86,264.8 L355.14,261.7 L355.42,265.0 L355.70,261.4 L355.98,271.7 L356.26,264.2 L356.54,265.1 L356.82,258.3 L357.10,265.3 L357.38,264.2" stroke="#000" stroke-width="1.0" fill="none"/>
<path d="M363.20,263.3 L363.48,268.2 L363.76,258.1 L364.04,271.1 L364.32,260.8 L364.60,270.8 L364.88,262.0 L365.16,266.6 L365.44,260.8 L365.72,270.6 L366.00,260.7 L366.28,274.3 L366.56,263.4 L366.84,269.4 L367.12,261.8 L367.40,268.2 L367.68,259.5 L367.96,271.1 L368.24,263.1 L368.52,267.4 L368.80,251.1 L369.08,265.0 L369.36,258.5 L369.64,269.3 L369.92,261.9 L370.20,273.3 L370.48,260.5 L370.76,265.6 L371.04,262.8 L371.32,267.5 L371.60,264.2 L371.88,265.6 L372.16,262.8 L372.44,267.1 L372.72,262.6 L373.00,271.7 L373.28,262.3 L373.56,266.0 L373.84,262.3 L374.12,269.6 L374.40,262.8 L374.68,264.6 L374.96,261.6 L375.24,265.0 L375.52,264.1 L375.80,264.8 L376.08,259.4 L376.36,267.7 L376.64,264.2 L376.92,271.7 L377.20,261.2 L377.48,267.7 L377.76,261.7 L378.04,266.0 L378.32,254.6 L378.60,266.3 L378.88,261.3 L379.16,268.7 L379.44,258.5 L379.72,264.7 L380.00,257.8 L380.28,266.7 L380.56,256.0 L380.84,271.2 L381.12,264.3 L381.40,269.4 L381.68,263.2 L381.96,268.2 L382.24,260.6 L382.52,270.5 L382.80,262.8 L383.08,268.1 L383.36,263.1 L383.64,267.2 L383.92,260.7 L384.20,265.2 L384.48,262.3 L384.76,272.0 L385.04,259.8 L385.32,269.7 L385.60,256.0 L385.88,264.9 L386.16,264.1 L386.44,273.3 L386.72,264.3 L387.00,269.2 L387.28,264.4 L387.56,267.3 L387.84,262.1 L388.12,270.0 L388.40,262.5 L388.68,267.2 L388.96,261.6 L389.24,271.9 L389.52,257.4 L389.80,273.8 L390.08,255.2 L390.36,265.4 L390.64,262.2 L390.92,266.6 L391.20,260.2 L391.48,267.1 L391.76,257.6 L392.04,266.5 L392.32,263.3 L392.60,267.0 L392.88,264.4 L393.16,267.4 L393.44,262.2 L393.72,268.4 L394.00,263.4 L394.28,264.6 L394.56,264.1 L394.84,269.5 L395.12,245.8 L395.72,250.8 L396.00,193.6 L396.30,243.1 L396.32,202.9 L396.92,261.7 L397.52,226.3 L398.12,245.5 L398.50,181.1 L398.72,188.6 L398.80,241.8 L399.32,242.0 L399.92,202.4 L400.52,250.6 L401.12,200.7 L401.72,243.3 L402.32,215.1 L402.92,253.0 L403.00,196.1 L403.30,257.5 L403.52,210.6 L404.12,242.7 L404.72,240.5 L405.32,240.1 L405.92,222.5 L406.52,264.5 L407.12,239.7 L407.72,259.9 L408.00,204.9 L408.30,242.3 L408.32,212.6 L408.92,243.8 L409.52,203.6 L410.12,246.8 L410.72,240.0 L411.32,254.1 L411.92,211.9 L412.52,259.7 L413.00,187.3 L413.12,191.2 L413.30,254.7 L413.72,259.0 L414.32,201.3 L414.92,264.0 L415.52,210.5 L416.00,197.4 L416.12,256.6 L416.30,242.8 L416.72,223.5 L417.32,247.0 L417.92,209.0 L418.52,262.8 L419.00,212.4 L419.12,214.9 L419.30,245.4 L419.72,248.6 L420.32,216.7 L420.92,263.2 L421.52,220.3 L422.12,261.0 L422.72,233.5 L423.32,243.7 L423.92,218.9 L424.00,217.4 L424.30,250.8 L424.52,266.3 L425.12,244.8 L425.72,265.0 L426.32,214.8 L426.92,264.0 L427.52,212.4 L428.00,205.5 L428.12,240.8 L428.30,250.8 L428.72,233.2 L429.32,254.1 L429.92,215.5 L430.52,245.8 L431.12,240.3 L431.72,251.7 L432.32,213.8 L432.92,262.6 L433.52,208.0 L434.00,194.2 L434.12,241.1 L434.30,249.2 L434.72,202.4 L435.32,244.3 L435.92,244.9 L436.52,245.7 L437.12,229.7 L437.72,259.3 L438.00,223.7 L438.30,241.8 L438.32,228.9 L438.92,257.0 L439.52,234.9 L440.12,247.0 L440.72,230.1 L441.32,251.7 L441.92,215.9 L442.52,259.7 L443.00,203.6 L443.12,206.6 L443.30,255.2 L443.72,249.1 L444.32,249.2 L444.92,259.6 L445.52,253.2 L446.12,267.8 L446.40,260.8 L446.68,264.5 L446.96,263.3 L447.24,267.1 L447.52,258.8 L447.80,269.1 L448.08,264.3 L448.36,265.8 L448.64,263.6 L448.92,274.2 L449.20,256.1 L449.48,266.7 L449.76,258.5 L450.04,268.7 L450.32,259.0 L450.60,266.9 L450.88,260.4 L451.16,269.9 L451.44,262.2 L451.72,266.1 L452.00,261.6 L452.28,265.9 L452.56,262.3 L452.84,274.6 L453.12,261.8 L453.40,274.4 L453.68,262.8 L453.96,269.9 L454.24,262.2 L454.52,273.2 L454.80,260.2 L455.08,265.5 L455.36,257.5 L455.64,266.3 L455.92,260.6 L456.20,268.0 L456.48,260.7 L456.76,268.1 L457.04,262.9 L457.32,268.3 L457.60,261.3 L457.88,264.5 L458.16,262.7 L458.44,269.4 L458.72,264.1 L459.00,268.0 L459.28,261.3 L459.56,265.7 L459.84,263.6 L460.12,270.4 L460.40,262.5 L460.68,270.7 L460.96,264.1 L461.24,266.3 L461.52,262.9 L461.80,264.8 L462.08,262.3 L462.36,264.7 L462.64,260.6 L462.92,265.2 L463.20,261.2 L463.48,268.6 L463.76,260.9 L464.04,271.4 L464.32,260.5 L464.60,268.1 L464.88,258.8 L465.16,267.2 L465.44,261.8 L465.72,264.6 L466.00,263.3 L466.28,271.2 L466.56,262.3 L466.84,265.8 L467.12,261.7 L467.40,267.2 L467.68,256.9 L467.96,265.2 L468.24,262.0 L468.52,265.9 L468.80,260.9 L469.08,270.3 L469.36,263.0 L469.64,268.0 L469.92,264.1" stroke="#000" stroke-width="1.0" fill="none"/>
<path d="M475.70,263.2 L475.98,265.4 L476.26,256.9 L476.54,267.7 L476.82,259.4 L477.10,265.5 L477.38,259.2 L477.66,264.6 L477.94,250.0 L478.22,267.4 L478.50,264.0 L478.78,267.6 L479.06,260.0 L479.34,266.5 L479.62,259.5 L479.90,265.5 L480.18,263.6 L480.46,270.0 L480.74,263.0 L481.02,271.3 L481.30,263.0 L481.58,267.5 L481.86,258.8 L482.14,264.7 L482.42,263.3 L482.70,265.2 L482.98,259.9 L483.26,264.8 L483.54,264.1 L483.82,268.1 L484.10,261.4 L484.38,267.6 L484.66,263.7 L484.94,266.7 L485.22,262.1 L485.50,270.4 L485.78,259.6 L486.06,271.9 L486.34,262.2 L486.62,269.1 L486.90,263.8 L487.18,268.6 L487.46,256.0 L487.74,265.3 L488.02,262.1 L488.30,264.8 L488.58,263.6 L488.86,268.3 L489.14,260.7 L489.42,268.7 L489.70,259.2 L489.98,265.7 L490.26,261.9 L490.54,267.0 L490.82,256.6 L491.10,266.3 L491.38,263.6 L491.66,267.8 L491.94,259.5 L492.22,267.8 L492.50,263.4 L492.78,265.1 L493.06,259.1 L493.34,264.6 L493.62,255.5 L493.90,265.2 L494.18,259.3 L494.46,266.3 L494.74,262.5 L495.02,265.7 L495.30,258.3 L495.58,268.3 L495.86,260.2 L496.14,267.1 L496.42,261.3 L496.70,270.1 L496.98,263.9 L497.26,271.2 L497.54,260.1 L497.82,265.0 L498.10,257.6 L498.38,265.2 L498.66,263.9 L498.94,268.1 L499.22,261.2 L499.50,266.1 L499.78,259.4 L500.06,264.5 L500.34,262.9 L500.62,266.1 L500.90,256.0 L501.18,265.5 L501.46,259.8 L501.74,264.9 L502.02,263.1 L502.30,268.6 L502.58,259.4 L502.86,268.5 L503.14,258.0 L503.42,269.0 L503.70,257.0 L503.98,269.2 L504.26,263.9 L504.54,267.4 L504.82,264.1 L505.10,267.1 L505.38,260.6 L505.66,276.5 L505.94,260.1 L506.22,255.7 L506.82,237.1 L507.42,251.8 L508.02,248.6 L508.62,256.6 L509.22,229.3 L509.82,265.7 L510.00,198.6 L510.30,258.0 L510.42,205.5 L511.02,261.8 L511.62,230.6 L512.22,239.9 L512.82,224.1 L513.42,260.1 L514.00,201.8 L514.02,202.3 L514.30,240.5 L514.62,253.2 L515.22,218.3 L515.82,252.8 L516.42,235.0 L517.02,240.2 L517.62,207.4 L518.22,265.1 L518.82,185.0 L519.00,178.6 L519.30,245.2 L519.42,248.7 L520.02,215.3 L520.62,255.6 L521.00,178.6 L521.22,186.4 L521.30,242.9 L521.82,262.5 L522.42,234.3 L523.02,256.2 L523.62,220.8 L524.22,265.0 L524.82,207.1 L525.42,266.3 L526.00,189.2 L526.02,189.4 L526.30,250.4 L526.62,249.3 L527.22,202.1 L527.82,248.1 L528.42,198.8 L529.02,241.8 L529.62,198.3 L530.00,186.1 L530.22,241.3 L530.30,250.5 L530.82,235.8 L531.42,244.2 L532.02,218.0 L532.62,256.0 L533.22,205.2 L533.82,256.7 L534.42,199.1 L535.00,178.6 L535.02,247.6 L535.30,251.7 L535.62,200.6 L536.22,256.4 L536.82,185.0 L537.00,178.6 L537.30,242.9 L537.42,260.9 L538.02,202.6 L538.62,259.8 L539.22,234.8 L539.82,245.0 L540.42,188.1 L541.02,255.3 L541.62,192.0 L542.00,178.6 L542.22,261.2 L542.30,249.5 L542.82,202.8 L543.42,245.9 L544.02,222.3 L544.62,250.3 L545.22,204.8 L545.82,254.5 L546.00,192.4 L546.30,256.5 L546.42,198.7 L547.02,265.2 L547.62,214.5 L548.22,264.2 L548.82,191.9 L549.00,186.1 L549.30,253.6 L549.42,248.0 L550.02,202.1 L550.62,239.4 L551.22,197.2 L551.82,239.7 L552.42,184.3 L553.00,178.6 L553.02,252.5 L553.30,240.9 L553.62,200.6 L554.22,259.4 L554.82,217.8 L555.42,250.6 L556.00,223.7 L556.02,224.0 L556.30,244.4 L556.62,261.0 L557.22,260.5 L557.50,265.3 L557.78,263.4 L558.06,271.4 L558.34,262.7 L558.62,269.4 L558.90,256.8 L559.18,267.2 L559.46,263.6 L559.74,265.4 L560.02,262.4 L560.30,265.8 L560.58,263.0 L560.86,268.8 L561.14,263.7 L561.42,267.0 L561.70,262.1 L561.98,265.8 L562.26,262.4 L562.54,273.9 L562.82,264.0 L563.10,273.0 L563.38,252.0 L563.66,266.6 L563.94,263.9 L564.22,269.6 L564.50,259.5 L564.78,271.6 L565.06,260.3 L565.34,270.2 L565.62,260.7 L565.90,265.2 L566.18,262.8 L566.46,264.9 L566.74,259.1 L567.02,267.0 L567.30,258.0 L567.58,270.6 L567.86,261.2 L568.14,265.0 L568.42,255.3 L568.70,264.6 L568.98,260.9 L569.26,268.5 L569.54,262.4 L569.82,266.8 L570.10,257.6 L570.38,273.3 L570.66,259.1 L570.94,272.3 L571.22,262.3 L571.50,268.2 L571.78,261.4 L572.06,270.7 L572.34,262.8 L572.62,265.1 L572.90,255.7 L573.18,266.9 L573.46,263.2 L573.74,266.1 L574.02,260.3 L574.30,268.6 L574.58,261.1 L574.86,265.7 L575.14,262.2 L575.42,264.7 L575.70,261.0 L575.98,267.5 L576.26,262.1 L576.54,264.9 L576.82,262.7 L577.10,266.4 L577.38,262.4 L577.66,266.5 L577.94,263.9 L578.22,264.9 L578.50,263.1 L578.78,269.4 L579.06,264.4 L579.34,266.7 L579.62,260.7 L579.90,267.4 L580.18,260.0 L580.46,267.1 L580.74,263.1 L581.02,270.5 L581.30,249.7" stroke="#000" stroke-width="1.0" fill="none"/>
<path d="M587.40,257.9 L587.68,266.5 L587.96,261.5 L588.24,265.1 L588.52,261.0 L588.80,265.6 L589.08,260.1 L589.36,270.0 L589.64,260.8 L589.92,269.8 L590.20,259.0 L590.48,265.2 L590.76,260.9 L591.04,267.5 L591.32,258.7 L591.60,272.3 L591.88,261.1 L592.16,266.1 L592.44,259.4 L592.72,266.1 L593.00,256.6 L593.28,273.8 L593.56,262.5 L593.84,265.1 L594.12,261.5 L594.40,265.8 L594.68,260.3 L594.96,269.5 L595.24,261.2 L595.52,265.9 L595.80,257.6 L596.08,266.3 L596.36,260.9 L596.64,266.3 L596.92,261.4 L597.20,264.5 L597.48,261.0 L597.76,266.0 L598.04,260.6 L598.32,265.8 L598.60,262.1 L598.88,266.8 L599.16,262.2 L599.44,265.7 L599.72,260.4 L600.00,268.8 L600.28,260.3 L600.56,265.7 L600.84,261.6 L601.12,265.8 L601.40,256.2 L601.68,268.1 L601.96,261.6 L602.24,267.0 L602.52,264.2 L602.80,264.5 L603.08,264.4 L603.36,271.3 L603.64,262.4 L603.92,268.5 L604.20,261.5 L604.48,270.9 L604.76,258.1 L605.04,269.3 L605.32,261.9 L605.60,268.2 L605.88,260.0 L606.16,270.3 L606.44,263.6 L606.72,271.5 L607.00,256.3 L607.28,266.5 L607.56,259.8 L607.84,269.4 L608.12,256.3 L608.40,270.8 L608.68,257.0 L608.96,268.8 L609.24,261.7 L609.52,264.5 L609.80,258.8 L610.08,265.7 L610.36,259.6 L610.64,268.7 L610.92,258.7 L611.20,270.5 L611.48,263.0 L611.76,267.2 L612.04,260.0 L612.32,265.7 L612.60,262.7 L612.88,267.8 L613.16,247.8 L613.76,262.5 L614.36,218.9 L614.50,216.2 L614.80,254.1 L614.96,259.3 L615.56,211.8 L616.16,254.2 L616.76,210.2 L617.36,253.6 L617.96,200.3 L618.00,199.3 L618.30,242.5 L618.56,252.0 L619.16,222.6 L619.76,251.0 L620.36,245.0 L620.96,246.0 L621.56,224.1 L622.00,223.7 L622.16,243.0 L622.30,257.7 L622.76,224.6 L623.36,257.3 L623.96,244.7 L624.56,252.3 L625.16,246.8 L625.76,252.8 L626.36,217.2 L626.96,243.5 L627.56,213.5 L628.00,202.4 L628.16,242.1 L628.30,254.4 L628.76,202.6 L629.36,247.3 L629.96,211.6 L630.56,259.0 L631.00,185.5 L631.16,190.7 L631.30,239.4 L631.76,256.6 L632.36,193.8 L632.96,262.6 L633.56,206.4 L634.00,193.6 L634.16,244.0 L634.30,249.6 L634.76,205.5 L635.36,260.4 L635.96,200.3 L636.00,199.3 L636.30,253.9 L636.56,245.3 L637.16,222.7 L637.76,255.5 L638.36,218.9 L638.96,240.4 L639.56,244.5 L640.16,247.9 L640.76,206.8 L641.00,200.5 L641.30,240.1 L641.36,261.1 L641.96,216.6 L642.56,259.2 L643.16,208.3 L643.76,246.8 L644.00,210.5 L644.30,252.1 L644.36,218.4 L644.96,249.3 L645.56,229.3 L646.16,265.1 L646.76,217.2 L647.36,263.4 L647.96,218.2 L648.00,217.4 L648.30,250.5 L648.56,253.6 L649.16,233.8 L649.76,259.8 L650.36,220.8 L650.96,256.6 L651.00,220.6 L651.30,251.1 L651.56,230.3 L652.16,256.1 L652.76,241.0 L653.36,264.4 L653.96,208.8 L654.50,203.6 L654.56,259.8 L654.80,251.7 L655.16,220.0 L655.76,254.0 L656.36,211.5 L656.96,264.9 L657.56,213.0 L658.16,247.7 L658.76,208.5 L659.36,239.7 L659.96,208.3 L660.00,207.4 L660.30,245.6 L660.56,265.3 L661.16,238.6 L661.76,244.4 L662.36,230.8 L662.96,263.6 L663.56,241.6 L664.16,265.1 L664.44,262.0 L664.72,266.3 L665.00,264.3 L665.28,264.7 L665.56,264.3 L665.84,266.5 L666.12,260.2 L666.40,264.9 L666.68,262.9 L666.96,265.4 L667.24,260.6 L667.52,271.8 L667.80,263.3 L668.08,268.6 L668.36,260.5 L668.64,272.7 L668.92,257.5 L669.20,269.7 L669.48,260.9 L669.76,267.5 L670.04,262.2 L670.32,267.7 L670.60,260.1 L670.88,266.0 L671.16,264.4 L671.44,268.3 L671.72,261.7 L672.00,268.8 L672.28,260.8 L672.56,266.9 L672.84,256.1 L673.12,270.3 L673.40,263.3 L673.68,266.2 L673.96,262.7 L674.24,265.2 L674.52,261.5 L674.80,265.2 L675.08,262.9 L675.36,269.6 L675.64,256.9 L675.92,271.0 L676.20,264.2 L676.48,265.1 L676.76,264.0 L677.04,267.5 L677.32,262.8 L677.60,269.8 L677.88,259.9 L678.16,266.0 L678.44,261.4 L678.72,274.4 L679.00,262.1 L679.28,267.3 L679.56,260.5 L679.84,269.6 L680.12,261.3 L680.40,265.2 L680.68,257.5 L680.96,267.0 L681.24,252.8 L681.52,266.8 L681.80,258.9 L682.08,264.5 L682.36,261.4 L682.64,265.2 L682.92,261.5 L683.20,269.3 L683.48,261.3 L683.76,264.9 L684.04,258.8 L684.32,265.6 L684.60,262.9 L684.88,265.6 L685.16,261.5 L685.44,267.1 L685.72,262.5 L686.00,270.4 L686.28,262.3 L686.56,268.5 L686.84,258.2 L687.12,265.6 L687.40,256.8 L687.68,264.5 L687.96,263.9 L688.24,267.6 L688.52,259.6 L688.80,265.4 L689.08,262.4 L689.36,268.7 L689.64,260.6 L689.92,265.1 L690.20,264.2 L690.48,268.1 L690.76,263.6 L691.04,265.1 L691.32,261.5 L691.60,266.7 L691.88,262.5 L692.16,269.4 L692.44,259.9 L692.72,265.2 L693.00,260.6 L693.28,272.3 L693.56,263.0 L693.84,265.9 L694.12,262.0 L694.40,267.7 L694.68,261.5 L694.96,267.8 L695.24,261.4 L695.52,266.3 L695.80,263.7 L696.08,273.5 L696.36,262.6 L696.64,265.6 L696.92,258.0 L697.20,272.0 L697.48,262.6 L697.76,267.3 L698.04,264.0 L698.32,264.8 L698.60,262.8 L698.88,270.6 L699.16,262.9 L699.44,265.5 L699.72,262.0 L700.00,272.7 L700.28,256.7 L700.56,270.2 L700.84,259.2 L701.12,264.7 L701.40,259.5 L701.68,269.0 L701.96,260.9 L702.24,270.5 L702.52,262.3 L702.80,266.5 L703.08,263.0 L703.36,265.8 L703.64,258.8 L703.92,266.1 L704.20,262.4 L704.48,268.2 L704.76,255.7 L705.04,264.9 L705.32,260.0 L705.60,276.7" stroke="#000" stroke-width="1.0" fill="none"/>
<g stroke="#3a3a3a" stroke-width="1.3" fill="none">
<path d="M68.0,322.7 L68.0,546.9 L299.9,546.9"/>
<path d="M64.7,524.30 L68.0,524.30"/>
<path d="M92.62,546.9 L92.62,551.2"/>
<path d="M64.7,494.43 L68.0,494.43"/>
<path d="M123.24,546.9 L123.24,551.2"/>
<path d="M64.7,464.57 L68.0,464.57"/>
<path d="M153.87,546.9 L153.87,551.2"/>
<path d="M64.7,434.70 L68.0,434.70"/>
<path d="M184.50,546.9 L184.50,551.2"/>
<path d="M64.7,404.83 L68.0,404.83"/>
<path d="M215.13,546.9 L215.13,551.2"/>
<path d="M64.7,374.97 L68.0,374.97"/>
<path d="M245.76,546.9 L245.76,551.2"/>
<path d="M64.7,345.10 L68.0,345.10"/>
<path d="M276.38,546.9 L276.38,551.2"/>
<path d="M66,539.23 L68.0,539.23"/>
<path d="M77.30,546.9 L77.30,549.6"/>
<path d="M66,509.37 L68.0,509.37"/>
<path d="M107.93,546.9 L107.93,549.6"/>
<path d="M66,479.50 L68.0,479.50"/>
<path d="M138.56,546.9 L138.56,549.6"/>
<path d="M66,449.63 L68.0,449.63"/>
<path d="M169.19,546.9 L169.19,549.6"/>
<path d="M66,419.77 L68.0,419.77"/>
<path d="M199.81,546.9 L199.81,549.6"/>
<path d="M66,389.90 L68.0,389.90"/>
<path d="M230.44,546.9 L230.44,549.6"/>
<path d="M66,360.03 L68.0,360.03"/>
<path d="M261.07,546.9 L261.07,549.6"/>
<path d="M66,330.17 L68.0,330.17"/>
<path d="M291.70,546.9 L291.70,549.6"/>
</g>
<text font-size="15.0" transform="translate(40.41,528.36) scale(1.0,1)" >-60</text>
<text font-size="14.8" transform="translate(81.27,564.04) scale(1.02,1)" >-60</text>
<text font-size="15.0" transform="translate(40.41,498.49) scale(1.0,1)" >-40</text>
<text font-size="14.8" transform="translate(111.90,564.04) scale(1.02,1)" >-40</text>
<text font-size="15.0" transform="translate(40.41,468.63) scale(1.0,1)" >-20</text>
<text font-size="14.8" transform="translate(142.53,564.04) scale(1.02,1)" >-20</text>
<text font-size="15.0" transform="translate(53.74,438.76) scale(1.0,1)" >0</text>
<text font-size="14.8" transform="translate(180.30,564.04) scale(1.02,1)" >0</text>
<text font-size="15.0" transform="translate(45.41,408.89) scale(1.0,1)" >20</text>
<text font-size="14.8" transform="translate(206.65,564.04) scale(1.02,1)" >20</text>
<text font-size="15.0" transform="translate(45.41,379.03) scale(1.0,1)" >40</text>
<text font-size="14.8" transform="translate(237.48,564.04) scale(1.02,1)" >40</text>
<text font-size="15.0" transform="translate(45.41,349.16) scale(1.0,1)" >60</text>
<text font-size="14.8" transform="translate(267.90,564.04) scale(1.02,1)" >60</text>
<text font-size="14.962" transform="translate(26.00,518.64) rotate(-90) scale(0.9640,1)" >y position of centroid (nm)</text>
<text font-size="14.962" transform="translate(99.92,586.60) scale(0.9753,1)" >x position of centroid (nm)</text>
<path d="M187.4,420.5 L182.0,438.0 L174.4,439.3 L164.8,436.6 L171.2,417.9 L182.6,416.6 L210.5,440.3 L184.4,442.2 L178.6,429.8 L161.5,445.0 L262.7,515.0 L234.1,447.2 L188.2,439.2 L175.1,398.5 L211.6,456.3 L166.3,466.0 L194.0,434.2 L182.3,433.4 L178.9,435.9 L167.0,420.5 L110.6,392.5 L175.2,418.6 L180.9,454.7 L195.0,450.8 L150.4,434.2 L237.5,449.2 L149.5,429.4 L174.7,416.1 L177.5,408.0 L169.2,419.1 L155.5,429.1 L201.0,411.3 L161.6,422.9 L181.5,451.8 L168.9,396.7 L186.0,453.7 L208.6,429.1 L148.6,429.0 L179.9,417.3 L180.1,442.1 L160.5,410.4 L206.0,432.0 L177.3,440.3 L167.6,423.5 L176.9,422.4 L212.4,441.6 L170.6,436.6 L176.6,445.5 L167.0,444.5 L187.1,411.9 L183.0,463.0 L175.7,439.5 L167.0,428.1 L190.1,435.9 L177.4,439.8 L193.8,463.0 L210.2,425.3 L158.5,397.0 L182.5,430.0 L173.1,430.8 L191.8,453.1 L149.8,415.5 L170.0,416.1 L173.6,443.0 L240.0,452.4 L184.0,465.8 L189.7,452.9 L211.3,464.2 L156.2,411.3 L207.6,454.1 L109.7,410.6 L175.5,441.7 L143.8,461.2 L166.7,433.8 L180.2,425.4 L161.2,403.6 L245.6,490.0 L216.5,412.3 L147.4,436.3 L173.3,436.5 L175.3,435.5 L179.5,422.1 L191.3,435.3 L163.4,466.4 L185.2,441.5 L180.6,431.6 L171.8,443.8 L181.8,440.4 L192.4,425.7 L196.0,445.2 L166.4,431.4 L191.1,446.3 L186.0,469.3 L165.9,438.0 L186.2,424.5 L163.7,435.8 L162.7,413.0 L214.1,443.0 L204.4,493.3 L171.2,440.1 L175.5,444.8 L195.7,446.4 L156.2,429.3 L199.9,441.9 L145.1,438.4 L157.6,413.5 L210.3,441.7 L202.7,439.3 L205.2,422.1 L177.1,438.7 L195.9,428.2 L208.6,451.0 L216.7,485.6 L158.9,419.9 L207.6,438.2 L187.4,433.2 L156.6,445.9 L187.1,480.7 L159.7,434.8 L151.3,409.0 L144.9,456.2 L205.9,432.2 L237.7,464.2 L169.0,447.9 L168.5,456.8 L206.0,442.1 L184.9,428.7 L190.2,452.1 L195.4,450.8 L171.1,436.6 L225.9,443.3 L196.4,426.4 L161.6,462.9 L180.3,418.9 L191.6,480.7 L199.1,469.5 L195.3,446.2 L197.3,452.0 L164.6,440.6 L176.1,434.8 L170.8,440.0 L229.0,444.8 L170.0,484.0 L199.0,452.4 L166.7,447.1 L189.1,441.8 L176.0,440.0 L236.7,396.7 L203.2,432.4 L200.7,463.4 L187.4,411.7 L165.0,427.6 L226.9,446.8 L213.4,430.9 L168.0,449.0 L222.4,438.6 L145.4,441.8 L187.6,446.8 L135.3,424.7 L194.4,439.1 L197.6,453.9 L166.1,428.0 L137.8,415.8 L163.8,441.2 L213.2,439.5 L211.8,452.9 L286.0,430.3 L193.4,439.3 L163.7,440.3 L176.0,423.5 L163.3,446.4 L194.6,437.0 L213.9,468.7 L213.1,422.7 L164.6,446.1 L223.3,451.7 L207.4,432.6 L190.1,444.2 L167.5,398.3 L178.1,438.0 L170.3,418.4 L149.5,438.7 L168.2,437.4 L191.3,425.6 L192.3,462.1 L194.0,448.5 L167.5,431.3 L199.1,406.5 L228.7,432.9 L180.2,460.5 L174.6,429.1 L157.1,434.9 L126.4,439.0 L202.4,454.0 L198.4,444.5 L200.9,419.6 L163.3,463.0 L182.3,456.4 L223.6,448.1 L214.9,434.1 L157.1,430.8 L178.6,409.4 L197.7,438.1 L223.0,436.9 L172.8,440.4 L157.8,420.9 L154.4,427.4 L159.8,425.3 L205.8,432.5 L196.3,453.1 L223.0,373.9 L173.2,414.1 L159.8,454.7 L171.0,442.4 L202.7,433.0 L176.5,444.2 L149.6,449.4 L247.0,472.9 L209.5,460.6 L163.1,416.5 L208.6,466.4 L190.8,438.9 L161.9,409.2 L193.1,441.8 L208.9,440.3 L201.3,436.8 L156.2,417.7 L212.9,462.0 L195.2,430.4 L216.4,451.0 L215.4,438.5 L171.6,425.7 L166.5,462.5 L183.0,409.9 L210.6,429.6 L158.9,419.1 L175.2,404.1 L163.6,435.2 L165.4,426.6 L185.6,424.6 L200.4,437.5 L206.9,452.1 L169.5,432.2 L174.2,437.1 L166.5,444.1 L200.5,455.4 L175.8,432.0 L176.3,429.9 L170.2,449.8 L187.3,426.9 L272.0,465.0 L180.6,433.9 L184.4,410.6 L166.7,418.1 L181.5,435.1 L148.1,414.9 L193.1,419.6 L149.5,426.8 L182.8,445.6 L179.6,437.9 L178.9,417.1 L173.2,438.6 L154.9,435.2 L285.3,472.5 L169.3,434.9 L146.3,442.1 L253.3,454.4 L194.4,432.2 L205.1,423.6 L209.2,429.5 L185.2,435.8 L177.7,427.3 L199.2,451.8 L174.2,375.8 L176.6,423.2 L196.4,442.2 L167.0,424.2 L169.6,432.0 L168.0,433.6 L170.8,436.2 L193.2,424.9 L175.9,435.1 L181.7,412.5 L207.6,440.1 L191.0,415.4 L178.3,460.6 L214.5,451.9 L199.9,444.7 L175.2,429.4 L200.7,453.7 L163.0,433.8 L157.0,426.8 L214.4,462.4 L189.5,442.6 L174.3,437.2 L163.4,437.8 L180.5,436.7 L176.2,434.5 L199.3,440.7 L175.3,421.6 L160.5,444.4 L174.2,442.7 L173.2,440.6 L192.6,434.4 L184.2,430.2 L174.2,446.4 L181.6,438.4 L173.9,438.1 L178.1,458.2 L183.9,416.1 L159.9,409.1 L230.5,464.1 L198.0,446.3 L183.5,418.9 L162.1,426.8 L167.6,416.2 L208.9,498.9 L236.6,435.1 L186.0,451.6 L198.2,446.0 L170.5,434.6 L162.6,438.5 L183.7,401.1 L213.3,448.5 L193.2,443.9 L164.6,428.1 L184.4,440.9 L148.4,434.1 L153.6,429.4 L172.8,441.0 L194.3,463.2 L204.2,453.4 L226.8,450.4 L197.4,438.3 L207.0,429.4 L223.1,447.0 L178.2,441.3 L215.8,437.8 L186.2,441.8 L219.2,419.7 L203.6,424.1 L181.7,426.0 L166.1,434.2 L188.1,430.1 L182.9,427.3 L205.9,420.0 L144.9,438.2 L216.6,459.9 L166.0,435.5 L209.0,459.8 L174.5,427.0 L225.6,484.4 L165.6,418.7 L197.1,411.7 L164.7,439.9 L185.7,460.1 L193.6,440.6 L156.0,444.3 L145.7,408.1 L193.5,442.3 L173.6,411.6 L201.4,446.5 L159.1,429.6 L173.5,400.5 L190.6,437.1 L221.2,432.0 L139.4,380.0 L159.9,428.5 L196.6,444.2 L134.5,416.8 L184.9,446.3 L162.8,432.1 L192.3,440.0 L180.3,432.7 L192.4,424.7 L200.6,412.8 L157.5,423.8 L156.5,435.6 L188.9,433.2 L179.7,407.2 L224.0,408.6 L157.0,446.9 L192.0,437.4 L196.2,448.7 L204.0,445.9 L158.0,411.0 L171.4,439.9 L197.7,446.8 L162.2,412.0 L211.1,414.5 L207.4,434.3" stroke="#000" stroke-width="0.5" fill="none"/>
<g fill="#000">
<rect x="185.9" y="419.0" width="3" height="3"/>
<rect x="180.5" y="436.5" width="3" height="3"/>
<rect x="172.9" y="437.8" width="3" height="3"/>
<rect x="163.3" y="435.1" width="3" height="3"/>
<rect x="169.7" y="416.4" width="3" height="3"/>
<rect x="181.1" y="415.1" width="3" height="3"/>
<rect x="209.0" y="438.8" width="3" height="3"/>
<rect x="182.9" y="440.7" width="3" height="3"/>
<rect x="177.1" y="428.3" width="3" height="3"/>
<rect x="160.0" y="443.5" width="3" height="3"/>
<rect x="261.2" y="513.5" width="3" height="3"/>
<rect x="232.6" y="445.7" width="3" height="3"/>
<rect x="186.7" y="437.7" width="3" height="3"/>
<rect x="173.6" y="397.0" width="3" height="3"/>
<rect x="210.1" y="454.8" width="3" height="3"/>
<rect x="164.8" y="464.5" width="3" height="3"/>
<rect x="192.5" y="432.7" width="3" height="3"/>
<rect x="180.8" y="431.9" width="3" height="3"/>
<rect x="177.4" y="434.4" width="3" height="3"/>
<rect x="165.5" y="419.0" width="3" height="3"/>
<rect x="109.1" y="391.0" width="3" height="3"/>
<rect x="173.7" y="417.1" width="3" height="3"/>
<rect x="179.4" y="453.2" width="3" height="3"/>
<rect x="193.5" y="449.3" width="3" height="3"/>
<rect x="148.9" y="432.7" width="3" height="3"/>
<rect x="236.0" y="447.7" width="3" height="3"/>
<rect x="148.0" y="427.9" width="3" height="3"/>
<rect x="173.2" y="414.6" width="3" height="3"/>
<rect x="176.0" y="406.5" width="3" height="3"/>
<rect x="167.7" y="417.6" width="3" height="3"/>
<rect x="154.0" y="427.6" width="3" height="3"/>
<rect x="199.5" y="409.8" width="3" height="3"/>
<rect x="160.1" y="421.4" width="3" height="3"/>
<rect x="180.0" y="450.3" width="3" height="3"/>
<rect x="167.4" y="395.2" width="3" height="3"/>
<rect x="184.5" y="452.2" width="3" height="3"/>
<rect x="207.1" y="427.6" width="3" height="3"/>
<rect x="147.1" y="427.5" width="3" height="3"/>
<rect x="178.4" y="415.8" width="3" height="3"/>
<rect x="178.6" y="440.6" width="3" height="3"/>
<rect x="159.0" y="408.9" width="3" height="3"/>
<rect x="204.5" y="430.5" width="3" height="3"/>
<rect x="175.8" y="438.8" width="3" height="3"/>
<rect x="166.1" y="422.0" width="3" height="3"/>
<rect x="175.4" y="420.9" width="3" height="3"/>
<rect x="210.9" y="440.1" width="3" height="3"/>
<rect x="169.1" y="435.1" width="3" height="3"/>
<rect x="175.1" y="444.0" width="3" height="3"/>
<rect x="165.5" y="443.0" width="3" height="3"/>
<rect x="185.6" y="410.4" width="3" height="3"/>
<rect x="181.5" y="461.5" width="3" height="3"/>
<rect x="174.2" y="438.0" width="3" height="3"/>
<rect x="165.5" y="426.6" width="3" height="3"/>
<rect x="188.6" y="434.4" width="3" height="3"/>
<rect x="175.9" y="438.3" width="3" height="3"/>
<rect x="192.3" y="461.5" width="3" height="3"/>
<rect x="208.7" y="423.8" width="3" height="3"/>
<rect x="157.0" y="395.5" width="3" height="3"/>
<rect x="181.0" y="428.5" width="3" height="3"/>
<rect x="171.6" y="429.3" width="3" height="3"/>
<rect x="190.3" y="451.6" width="3" height="3"/>
<rect x="148.3" y="414.0" width="3" height="3"/>
<rect x="168.5" y="414.6" width="3" height="3"/>
<rect x="172.1" y="441.5" width="3" height="3"/>
<rect x="238.5" y="450.9" width="3" height="3"/>
<rect x="182.5" y="464.3" width="3" height="3"/>
<rect x="188.2" y="451.4" width="3" height="3"/>
<rect x="209.8" y="462.7" width="3" height="3"/>
<rect x="154.7" y="409.8" width="3" height="3"/>
<rect x="206.1" y="452.6" width="3" height="3"/>
<rect x="108.2" y="409.1" width="3" height="3"/>
<rect x="174.0" y="440.2" width="3" height="3"/>
<rect x="142.3" y="459.7" width="3" height="3"/>
<rect x="165.2" y="432.3" width="3" height="3"/>
<rect x="178.7" y="423.9" width="3" height="3"/>
<rect x="159.7" y="402.1" width="3" height="3"/>
<rect x="244.1" y="488.5" width="3" height="3"/>
<rect x="215.0" y="410.8" width="3" height="3"/>
<rect x="145.9" y="434.8" width="3" height="3"/>
<rect x="171.8" y="435.0" width="3" height="3"/>
<rect x="173.8" y="434.0" width="3" height="3"/>
<rect x="178.0" y="420.6" width="3" height="3"/>
<rect x="189.8" y="433.8" width="3" height="3"/>
<rect x="161.9" y="464.9" width="3" height="3"/>
<rect x="183.7" y="440.0" width="3" height="3"/>
<rect x="179.1" y="430.1" width="3" height="3"/>
<rect x="170.3" y="442.3" width="3" height="3"/>
<rect x="180.3" y="438.9" width="3" height="3"/>
<rect x="190.9" y="424.2" width="3" height="3"/>
<rect x="194.5" y="443.7" width="3" height="3"/>
<rect x="164.9" y="429.9" width="3" height="3"/>
<rect x="189.6" y="444.8" width="3" height="3"/>
<rect x="184.5" y="467.8" width="3" height="3"/>
<rect x="164.4" y="436.5" width="3" height="3"/>
<rect x="184.7" y="423.0" width="3" height="3"/>
<rect x="162.2" y="434.3" width="3" height="3"/>
<rect x="161.2" y="411.5" width="3" height="3"/>
<rect x="212.6" y="441.5" width="3" height="3"/>
<rect x="202.9" y="491.8" width="3" height="3"/>
<rect x="169.7" y="438.6" width="3" height="3"/>
<rect x="174.0" y="443.3" width="3" height="3"/>
<rect x="194.2" y="444.9" width="3" height="3"/>
<rect x="154.7" y="427.8" width="3" height="3"/>
<rect x="198.4" y="440.4" width="3" height="3"/>
<rect x="143.6" y="436.9" width="3" height="3"/>
<rect x="156.1" y="412.0" width="3" height="3"/>
<rect x="208.8" y="440.2" width="3" height="3"/>
<rect x="201.2" y="437.8" width="3" height="3"/>
<rect x="203.7" y="420.6" width="3" height="3"/>
<rect x="175.6" y="437.2" width="3" height="3"/>
<rect x="194.4" y="426.7" width="3" height="3"/>
<rect x="207.1" y="449.5" width="3" height="3"/>
<rect x="215.2" y="484.1" width="3" height="3"/>
<rect x="157.4" y="418.4" width="3" height="3"/>
<rect x="206.1" y="436.7" width="3" height="3"/>
<rect x="185.9" y="431.7" width="3" height="3"/>
<rect x="155.1" y="444.4" width="3" height="3"/>
<rect x="185.6" y="479.2" width="3" height="3"/>
<rect x="158.2" y="433.3" width="3" height="3"/>
<rect x="149.8" y="407.5" width="3" height="3"/>
<rect x="143.4" y="454.7" width="3" height="3"/>
<rect x="204.4" y="430.7" width="3" height="3"/>
<rect x="236.2" y="462.7" width="3" height="3"/>
<rect x="167.5" y="446.4" width="3" height="3"/>
<rect x="167.0" y="455.3" width="3" height="3"/>
<rect x="204.5" y="440.6" width="3" height="3"/>
<rect x="183.4" y="427.2" width="3" height="3"/>
<rect x="188.7" y="450.6" width="3" height="3"/>
<rect x="193.9" y="449.3" width="3" height="3"/>
<rect x="169.6" y="435.1" width="3" height="3"/>
<rect x="224.4" y="441.8" width="3" height="3"/>
<rect x="194.9" y="424.9" width="3" height="3"/>
<rect x="160.1" y="461.4" width="3" height="3"/>
<rect x="178.8" y="417.4" width="3" height="3"/>
<rect x="190.1" y="479.2" width="3" height="3"/>
<rect x="197.6" y="468.0" width="3" height="3"/>
<rect x="193.8" y="444.7" width="3" height="3"/>
<rect x="195.8" y="450.5" width="3" height="3"/>
<rect x="163.1" y="439.1" width="3" height="3"/>
<rect x="174.6" y="433.3" width="3" height="3"/>
<rect x="169.3" y="438.5" width="3" height="3"/>
<rect x="227.5" y="443.3" width="3" height="3"/>
<rect x="168.5" y="482.5" width="3" height="3"/>
<rect x="197.5" y="450.9" width="3" height="3"/>
<rect x="165.2" y="445.6" width="3" height="3"/>
<rect x="187.6" y="440.3" width="3" height="3"/>
<rect x="174.5" y="438.5" width="3" height="3"/>
<rect x="235.2" y="395.2" width="3" height="3"/>
<rect x="201.7" y="430.9" width="3" height="3"/>
<rect x="199.2" y="461.9" width="3" height="3"/>
<rect x="185.9" y="410.2" width="3" height="3"/>
<rect x="163.5" y="426.1" width="3" height="3"/>
<rect x="225.4" y="445.3" width="3" height="3"/>
<rect x="211.9" y="429.4" width="3" height="3"/>
<rect x="166.5" y="447.5" width="3" height="3"/>
<rect x="220.9" y="437.1" width="3" height="3"/>
<rect x="143.9" y="440.3" width="3" height="3"/>
<rect x="186.1" y="445.3" width="3" height="3"/>
<rect x="133.8" y="423.2" width="3" height="3"/>
<rect x="192.9" y="437.6" width="3" height="3"/>
<rect x="196.1" y="452.4" width="3" height="3"/>
<rect x="164.6" y="426.5" width="3" height="3"/>
<rect x="136.3" y="414.3" width="3" height="3"/>
<rect x="162.3" y="439.7" width="3" height="3"/>
<rect x="211.7" y="438.0" width="3" height="3"/>
<rect x="210.3" y="451.4" width="3" height="3"/>
<rect x="284.5" y="428.8" width="3" height="3"/>
<rect x="191.9" y="437.8" width="3" height="3"/>
<rect x="162.2" y="438.8" width="3" height="3"/>
<rect x="174.5" y="422.0" width="3" height="3"/>
<rect x="161.8" y="444.9" width="3" height="3"/>
<rect x="193.1" y="435.5" width="3" height="3"/>
<rect x="212.4" y="467.2" width="3" height="3"/>
<rect x="211.6" y="421.2" width="3" height="3"/>
<rect x="163.1" y="444.6" width="3" height="3"/>
<rect x="221.8" y="450.2" width="3" height="3"/>
<rect x="205.9" y="431.1" width="3" height="3"/>
<rect x="188.6" y="442.7" width="3" height="3"/>
<rect x="166.0" y="396.8" width="3" height="3"/>
<rect x="176.6" y="436.5" width="3" height="3"/>
<rect x="168.8" y="416.9" width="3" height="3"/>
<rect x="148.0" y="437.2" width="3" height="3"/>
<rect x="166.7" y="435.9" width="3" height="3"/>
<rect x="189.8" y="424.1" width="3" height="3"/>
<rect x="190.8" y="460.6" width="3" height="3"/>
<rect x="192.5" y="447.0" width="3" height="3"/>
<rect x="166.0" y="429.8" width="3" height="3"/>
<rect x="197.6" y="405.0" width="3" height="3"/>
<rect x="227.2" y="431.4" width="3" height="3"/>
<rect x="178.7" y="459.0" width="3" height="3"/>
<rect x="173.1" y="427.6" width="3" height="3"/>
<rect x="155.6" y="433.4" width="3" height="3"/>
<rect x="124.9" y="437.5" width="3" height="3"/>
<rect x="200.9" y="452.5" width="3" height="3"/>
<rect x="196.9" y="443.0" width="3" height="3"/>
<rect x="199.4" y="418.1" width="3" height="3"/>
<rect x="161.8" y="461.5" width="3" height="3"/>
<rect x="180.8" y="454.9" width="3" height="3"/>
<rect x="222.1" y="446.6" width="3" height="3"/>
<rect x="213.4" y="432.6" width="3" height="3"/>
<rect x="155.6" y="429.3" width="3" height="3"/>
<rect x="177.1" y="407.9" width="3" height="3"/>
<rect x="196.2" y="436.6" width="3" height="3"/>
<rect x="221.5" y="435.4" width="3" height="3"/>
<rect x="171.3" y="438.9" width="3" height="3"/>
<rect x="156.3" y="419.4" width="3" height="3"/>
<rect x="152.9" y="425.9" width="3" height="3"/>
<rect x="158.3" y="423.8" width="3" height="3"/>
<rect x="204.3" y="431.0" width="3" height="3"/>
<rect x="194.8" y="451.6" width="3" height="3"/>
<rect x="221.5" y="372.4" width="3" height="3"/>
<rect x="171.7" y="412.6" width="3" height="3"/>
<rect x="158.3" y="453.2" width="3" height="3"/>
<rect x="169.5" y="440.9" width="3" height="3"/>
<rect x="201.2" y="431.5" width="3" height="3"/>
<rect x="175.0" y="442.7" width="3" height="3"/>
<rect x="148.1" y="447.9" width="3" height="3"/>
<rect x="245.5" y="471.4" width="3" height="3"/>
<rect x="208.0" y="459.1" width="3" height="3"/>
<rect x="161.6" y="415.0" width="3" height="3"/>
<rect x="207.1" y="464.9" width="3" height="3"/>
<rect x="189.3" y="437.4" width="3" height="3"/>
<rect x="160.4" y="407.7" width="3" height="3"/>
<rect x="191.6" y="440.3" width="3" height="3"/>
<rect x="207.4" y="438.8" width="3" height="3"/>
<rect x="199.8" y="435.3" width="3" height="3"/>
<rect x="154.7" y="416.2" width="3" height="3"/>
<rect x="211.4" y="460.5" width="3" height="3"/>
<rect x="193.7" y="428.9" width="3" height="3"/>
<rect x="214.9" y="449.5" width="3" height="3"/>
<rect x="213.9" y="437.0" width="3" height="3"/>
<rect x="170.1" y="424.2" width="3" height="3"/>
<rect x="165.0" y="461.0" width="3" height="3"/>
<rect x="181.5" y="408.4" width="3" height="3"/>
<rect x="209.1" y="428.1" width="3" height="3"/>
<rect x="157.4" y="417.6" width="3" height="3"/>
<rect x="173.7" y="402.6" width="3" height="3"/>
<rect x="162.1" y="433.7" width="3" height="3"/>
<rect x="163.9" y="425.1" width="3" height="3"/>
<rect x="184.1" y="423.1" width="3" height="3"/>
<rect x="198.9" y="436.0" width="3" height="3"/>
<rect x="205.4" y="450.6" width="3" height="3"/>
<rect x="168.0" y="430.7" width="3" height="3"/>
<rect x="172.7" y="435.6" width="3" height="3"/>
<rect x="165.0" y="442.6" width="3" height="3"/>
<rect x="199.0" y="453.9" width="3" height="3"/>
<rect x="174.3" y="430.5" width="3" height="3"/>
<rect x="174.8" y="428.4" width="3" height="3"/>
<rect x="168.7" y="448.3" width="3" height="3"/>
<rect x="185.8" y="425.4" width="3" height="3"/>
<rect x="270.5" y="463.5" width="3" height="3"/>
<rect x="179.1" y="432.4" width="3" height="3"/>
<rect x="182.9" y="409.1" width="3" height="3"/>
<rect x="165.2" y="416.6" width="3" height="3"/>
<rect x="180.0" y="433.6" width="3" height="3"/>
<rect x="146.6" y="413.4" width="3" height="3"/>
<rect x="191.6" y="418.1" width="3" height="3"/>
<rect x="148.0" y="425.3" width="3" height="3"/>
<rect x="181.3" y="444.1" width="3" height="3"/>
<rect x="178.1" y="436.4" width="3" height="3"/>
<rect x="177.4" y="415.6" width="3" height="3"/>
<rect x="171.7" y="437.1" width="3" height="3"/>
<rect x="153.4" y="433.7" width="3" height="3"/>
<rect x="283.8" y="471.0" width="3" height="3"/>
<rect x="167.8" y="433.4" width="3" height="3"/>
<rect x="144.8" y="440.6" width="3" height="3"/>
<rect x="251.8" y="452.9" width="3" height="3"/>
<rect x="192.9" y="430.7" width="3" height="3"/>
<rect x="203.6" y="422.1" width="3" height="3"/>
<rect x="207.7" y="428.0" width="3" height="3"/>
<rect x="183.7" y="434.3" width="3" height="3"/>
<rect x="176.2" y="425.8" width="3" height="3"/>
<rect x="197.7" y="450.3" width="3" height="3"/>
<rect x="172.7" y="374.3" width="3" height="3"/>
<rect x="175.1" y="421.7" width="3" height="3"/>
<rect x="194.9" y="440.7" width="3" height="3"/>
<rect x="165.5" y="422.7" width="3" height="3"/>
<rect x="168.1" y="430.5" width="3" height="3"/>
<rect x="166.5" y="432.1" width="3" height="3"/>
<rect x="169.3" y="434.7" width="3" height="3"/>
<rect x="191.7" y="423.4" width="3" height="3"/>
<rect x="174.4" y="433.6" width="3" height="3"/>
<rect x="180.2" y="411.0" width="3" height="3"/>
<rect x="206.1" y="438.6" width="3" height="3"/>
<rect x="189.5" y="413.9" width="3" height="3"/>
<rect x="176.8" y="459.1" width="3" height="3"/>
<rect x="213.0" y="450.4" width="3" height="3"/>
<rect x="198.4" y="443.2" width="3" height="3"/>
<rect x="173.7" y="427.9" width="3" height="3"/>
<rect x="199.2" y="452.2" width="3" height="3"/>
<rect x="161.5" y="432.3" width="3" height="3"/>
<rect x="155.5" y="425.3" width="3" height="3"/>
<rect x="212.9" y="460.9" width="3" height="3"/>
<rect x="188.0" y="441.1" width="3" height="3"/>
<rect x="172.8" y="435.7" width="3" height="3"/>
<rect x="161.9" y="436.3" width="3" height="3"/>
<rect x="179.0" y="435.2" width="3" height="3"/>
<rect x="174.7" y="433.0" width="3" height="3"/>
<rect x="197.8" y="439.2" width="3" height="3"/>
<rect x="173.8" y="420.1" width="3" height="3"/>
<rect x="159.0" y="442.9" width="3" height="3"/>
<rect x="172.7" y="441.2" width="3" height="3"/>
<rect x="171.7" y="439.1" width="3" height="3"/>
<rect x="191.1" y="432.9" width="3" height="3"/>
<rect x="182.7" y="428.7" width="3" height="3"/>
<rect x="172.7" y="444.9" width="3" height="3"/>
<rect x="180.1" y="436.9" width="3" height="3"/>
<rect x="172.4" y="436.6" width="3" height="3"/>
<rect x="176.6" y="456.7" width="3" height="3"/>
<rect x="182.4" y="414.6" width="3" height="3"/>
<rect x="158.4" y="407.6" width="3" height="3"/>
<rect x="229.0" y="462.6" width="3" height="3"/>
<rect x="196.5" y="444.8" width="3" height="3"/>
<rect x="182.0" y="417.4" width="3" height="3"/>
<rect x="160.6" y="425.3" width="3" height="3"/>
<rect x="166.1" y="414.7" width="3" height="3"/>
<rect x="207.4" y="497.4" width="3" height="3"/>
<rect x="235.1" y="433.6" width="3" height="3"/>
<rect x="184.5" y="450.1" width="3" height="3"/>
<rect x="196.7" y="444.5" width="3" height="3"/>
<rect x="169.0" y="433.1" width="3" height="3"/>
<rect x="161.1" y="437.0" width="3" height="3"/>
<rect x="182.2" y="399.6" width="3" height="3"/>
<rect x="211.8" y="447.0" width="3" height="3"/>
<rect x="191.7" y="442.4" width="3" height="3"/>
<rect x="163.1" y="426.6" width="3" height="3"/>
<rect x="182.9" y="439.4" width="3" height="3"/>
<rect x="146.9" y="432.6" width="3" height="3"/>
<rect x="152.1" y="427.9" width="3" height="3"/>
<rect x="171.3" y="439.5" width="3" height="3"/>
<rect x="192.8" y="461.7" width="3" height="3"/>
<rect x="202.7" y="451.9" width="3" height="3"/>
<rect x="225.3" y="448.9" width="3" height="3"/>
<rect x="195.9" y="436.8" width="3" height="3"/>
<rect x="205.5" y="427.9" width="3" height="3"/>
<rect x="221.6" y="445.5" width="3" height="3"/>
<rect x="176.7" y="439.8" width="3" height="3"/>
<rect x="214.3" y="436.3" width="3" height="3"/>
<rect x="184.7" y="440.3" width="3" height="3"/>
<rect x="217.7" y="418.2" width="3" height="3"/>
<rect x="202.1" y="422.6" width="3" height="3"/>
<rect x="180.2" y="424.5" width="3" height="3"/>
<rect x="164.6" y="432.7" width="3" height="3"/>
<rect x="186.6" y="428.6" width="3" height="3"/>
<rect x="181.4" y="425.8" width="3" height="3"/>
<rect x="204.4" y="418.5" width="3" height="3"/>
<rect x="143.4" y="436.7" width="3" height="3"/>
<rect x="215.1" y="458.4" width="3" height="3"/>
<rect x="164.5" y="434.0" width="3" height="3"/>
<rect x="207.5" y="458.3" width="3" height="3"/>
<rect x="173.0" y="425.5" width="3" height="3"/>
<rect x="224.1" y="482.9" width="3" height="3"/>
<rect x="164.1" y="417.2" width="3" height="3"/>
<rect x="195.6" y="410.2" width="3" height="3"/>
<rect x="163.2" y="438.4" width="3" height="3"/>
<rect x="184.2" y="458.6" width="3" height="3"/>
<rect x="192.1" y="439.1" width="3" height="3"/>
<rect x="154.5" y="442.8" width="3" height="3"/>
<rect x="144.2" y="406.6" width="3" height="3"/>
<rect x="192.0" y="440.8" width="3" height="3"/>
<rect x="172.1" y="410.1" width="3" height="3"/>
<rect x="199.9" y="445.0" width="3" height="3"/>
<rect x="157.6" y="428.1" width="3" height="3"/>
<rect x="172.0" y="399.0" width="3" height="3"/>
<rect x="189.1" y="435.6" width="3" height="3"/>
<rect x="219.7" y="430.5" width="3" height="3"/>
<rect x="137.9" y="378.5" width="3" height="3"/>
<rect x="158.4" y="427.0" width="3" height="3"/>
<rect x="195.1" y="442.7" width="3" height="3"/>
<rect x="133.0" y="415.3" width="3" height="3"/>
<rect x="183.4" y="444.8" width="3" height="3"/>
<rect x="161.3" y="430.6" width="3" height="3"/>
<rect x="190.8" y="438.5" width="3" height="3"/>
<rect x="178.8" y="431.2" width="3" height="3"/>
<rect x="190.9" y="423.2" width="3" height="3"/>
<rect x="199.1" y="411.3" width="3" height="3"/>
<rect x="156.0" y="422.3" width="3" height="3"/>
<rect x="155.0" y="434.1" width="3" height="3"/>
<rect x="187.4" y="431.7" width="3" height="3"/>
<rect x="178.2" y="405.7" width="3" height="3"/>
<rect x="222.5" y="407.1" width="3" height="3"/>
<rect x="155.5" y="445.4" width="3" height="3"/>
<rect x="190.5" y="435.9" width="3" height="3"/>
<rect x="194.7" y="447.2" width="3" height="3"/>
<rect x="202.5" y="444.4" width="3" height="3"/>
<rect x="156.5" y="409.5" width="3" height="3"/>
<rect x="169.9" y="438.4" width="3" height="3"/>
<rect x="196.2" y="445.3" width="3" height="3"/>
<rect x="160.7" y="410.5" width="3" height="3"/>
<rect x="209.6" y="413.0" width="3" height="3"/>
<rect x="205.9" y="432.8" width="3" height="3"/>
</g>
<g stroke="#000" stroke-width="1.7" fill="none">
<path d="M361.5,320.9 L361.5,545.6 L711.2,545.6"/>
<path d="M357.1,545.86 L361.5,545.86"/>
<path d="M357.1,513.83 L361.5,513.83"/>
<path d="M357.1,481.80 L361.5,481.80"/>
<path d="M357.1,449.77 L361.5,449.77"/>
<path d="M357.1,417.74 L361.5,417.74"/>
<path d="M357.1,385.72 L361.5,385.72"/>
<path d="M357.1,353.69 L361.5,353.69"/>
<path d="M357.1,321.66 L361.5,321.66"/>
<path d="M358.9,529.84 L361.5,529.84"/>
<path d="M358.9,497.81 L361.5,497.81"/>
<path d="M358.9,465.79 L361.5,465.79"/>
<path d="M358.9,433.76 L361.5,433.76"/>
<path d="M358.9,401.73 L361.5,401.73"/>
<path d="M358.9,369.70 L361.5,369.70"/>
<path d="M358.9,337.67 L361.5,337.67"/>
<path d="M361.50,545.6 L361.50,550.2"/>
<path d="M448.75,545.6 L448.75,550.2"/>
<path d="M536.00,545.6 L536.00,550.2"/>
<path d="M623.25,545.6 L623.25,550.2"/>
<path d="M710.50,545.6 L710.50,550.2"/>
<path d="M405.12,545.6 L405.12,548.4"/>
<path d="M492.38,545.6 L492.38,548.4"/>
<path d="M579.62,545.6 L579.62,548.4"/>
<path d="M666.88,545.6 L666.88,548.4"/>
</g>
<text font-size="15.4" transform="translate(333.63,551.65) scale(0.95,1)" >-40</text>
<text font-size="15.4" transform="translate(333.63,519.63) scale(0.95,1)" >-20</text>
<text font-size="15.4" transform="translate(346.64,487.60) scale(0.95,1)" >0</text>
<text font-size="15.4" transform="translate(338.50,455.57) scale(0.95,1)" >20</text>
<text font-size="15.4" transform="translate(338.50,423.54) scale(0.95,1)" >40</text>
<text font-size="15.4" transform="translate(338.50,391.51) scale(0.95,1)" >60</text>
<text font-size="15.4" transform="translate(338.50,359.49) scale(0.95,1)" >80</text>
<text font-size="15.4" transform="translate(330.37,327.46) scale(0.95,1)" >100</text>
<text font-size="15.3" transform="translate(357.22,563.66) scale(0.96,1)" >0</text>
<text font-size="15.3" transform="translate(434.48,563.66) scale(0.96,1)" >100</text>
<text font-size="15.3" transform="translate(523.97,563.66) scale(0.96,1)" >200</text>
<text font-size="15.3" transform="translate(609.76,563.66) scale(0.96,1)" >300</text>
<text font-size="15.3" transform="translate(694.97,563.66) scale(0.96,1)" >400</text>
<text font-size="15.152" transform="translate(329.90,532.12) rotate(-90) scale(0.9731,1)" >displacement from mean (µm)</text>
<text font-size="14.962" transform="translate(478.70,586.30) scale(0.9722,1)" >frame number</text>
<path d="M361.5,467.4 L362.4,437.3 L363.2,482.1 L364.1,501.9 L365.0,462.9 L365.9,427.4 L366.7,461.4 L367.6,459.3 L368.5,471.9 L369.4,481.7 L370.2,485.3 L371.1,475.4 L372.0,510.6 L372.8,454.5 L373.7,443.7 L374.6,497.8 L375.5,459.9 L376.3,473.8 L377.2,451.6 L378.1,444.1 L378.9,462.2 L379.8,507.3 L380.7,460.2 L381.6,502.9 L382.4,442.2 L383.3,485.3 L384.2,476.1 L385.1,437.0 L385.9,506.5 L386.8,471.6 L387.7,445.0 L388.5,482.1 L389.4,487.4 L390.3,458.6 L391.2,436.5 L392.0,465.0 L392.9,457.9 L393.8,502.4 L394.7,440.6 L395.5,471.3 L396.4,432.2 L397.3,476.8 L398.1,445.7 L399.0,441.9 L399.9,473.5 L400.8,370.2 L401.6,452.8 L402.5,436.1 L403.4,457.6 L404.3,434.5 L405.1,509.0 L406.0,466.4 L406.9,439.3 L407.7,438.1 L408.6,384.1 L409.5,440.3 L410.4,448.0 L411.2,437.0 L412.1,429.2 L413.0,393.7 L413.9,435.8 L414.7,513.8 L415.6,462.7 L416.5,497.8 L417.3,443.7 L418.2,451.0 L419.1,441.2 L420.0,488.2 L420.8,461.0 L421.7,462.4 L422.6,486.8 L423.4,433.6 L424.3,427.4 L425.2,476.2 L426.1,442.5 L426.9,417.4 L427.8,474.9 L428.7,431.7 L429.6,419.9 L430.4,414.4 L431.3,477.7 L432.2,386.5 L433.0,446.8 L433.9,427.2 L434.8,475.5 L435.7,465.5 L436.5,474.1 L437.4,431.9 L438.3,508.2 L439.2,445.2 L440.0,445.3 L440.9,436.6 L441.8,452.6 L442.6,455.6 L443.5,440.9 L444.4,455.8 L445.3,490.4 L446.1,476.7 L447.0,448.8 L447.9,464.3 L448.8,474.1 L449.6,463.8 L450.5,409.7 L451.4,470.1 L452.2,460.9 L453.1,461.9 L454.0,411.8 L454.9,450.3 L455.7,457.2 L456.6,517.0 L457.5,498.8 L458.3,452.5 L459.2,462.3 L460.1,478.5 L461.0,523.4 L461.8,479.7 L462.7,501.5 L463.6,484.5 L464.5,490.5 L465.3,497.1 L466.2,464.6 L467.1,481.4 L467.9,461.6 L468.8,501.8 L469.7,408.6 L470.6,460.7 L471.4,479.9 L472.3,499.4 L473.2,502.9 L474.1,498.0 L474.9,489.3 L475.8,475.8 L476.7,486.1 L477.5,475.6 L478.4,474.5 L479.3,488.0 L480.2,467.3 L481.0,477.8 L481.9,515.4 L482.8,495.1 L483.6,492.9 L484.5,505.0 L485.4,514.9 L486.3,489.0 L487.1,498.0 L488.0,477.2 L488.9,497.6 L489.8,484.1 L490.6,481.3 L491.5,492.5 L492.4,479.5 L493.2,496.0 L494.1,490.5 L495.0,468.2 L495.9,475.5 L496.7,482.5 L497.6,496.6 L498.5,469.7 L499.4,438.9 L500.2,521.4 L501.1,462.9 L502.0,520.2 L502.8,461.9 L503.7,460.5 L504.6,499.9 L505.5,450.0 L506.3,492.6 L507.2,486.8 L508.1,471.3 L509.0,484.6 L509.8,478.6 L510.7,493.2 L511.6,503.0 L512.4,484.4 L513.3,504.8 L514.2,461.2 L515.1,481.5 L515.9,460.9 L516.8,509.2 L517.7,523.4 L518.5,523.4 L519.4,494.7 L520.3,511.6 L521.2,432.2 L522.0,515.5 L522.9,514.6 L523.8,513.8 L524.7,496.2 L525.5,476.6 L526.4,474.0 L527.3,482.0 L528.1,423.2 L529.0,503.7 L529.9,446.8 L530.8,491.7 L531.6,482.1 L532.5,484.9 L533.4,487.4 L534.3,489.8 L535.1,496.7 L536.0,495.7 L536.9,521.8 L537.7,454.2 L538.6,485.4 L539.5,506.2 L540.4,472.2 L541.2,468.5 L542.1,505.7 L543.0,488.0 L543.9,450.7 L544.7,466.9 L545.6,418.5 L546.5,456.8 L547.3,476.2 L548.2,478.2 L549.1,443.1 L550.0,475.3 L550.8,473.4 L551.7,460.5 L552.6,471.5 L553.5,494.4 L554.3,438.0 L555.2,473.5 L556.1,439.8 L556.9,463.1 L557.8,488.8 L558.7,444.5 L559.6,475.6 L560.4,488.0 L561.3,473.1 L562.2,511.3 L563.0,465.3 L563.9,514.9 L564.8,477.3 L565.7,488.9 L566.5,460.6 L567.4,466.4 L568.3,453.4 L569.2,442.9 L570.0,467.9 L570.9,471.4 L571.8,467.6 L572.6,487.8 L573.5,417.9 L574.4,459.6 L575.3,488.8 L576.1,508.3 L577.0,479.7 L577.9,468.8 L578.8,446.9 L579.6,486.4 L580.5,491.0 L581.4,473.1 L582.2,478.3 L583.1,471.6 L584.0,486.1 L584.9,473.8 L585.7,488.5 L586.6,460.9 L587.5,474.3 L588.4,469.7 L589.2,488.5 L590.1,507.1 L591.0,481.7 L591.8,483.5 L592.7,463.4 L593.6,466.4 L594.5,485.1 L595.3,485.9 L596.2,434.2 L597.1,487.2 L597.9,482.1 L598.8,429.4 L599.7,504.5 L600.6,461.5 L601.4,522.5 L602.3,453.8 L603.2,461.8 L604.1,454.8 L604.9,497.4 L605.8,470.4 L606.7,506.2 L607.5,487.2 L608.4,519.4 L609.3,441.8 L610.2,488.3 L611.0,461.6 L611.9,458.9 L612.8,484.5 L613.7,482.5 L614.5,493.8 L615.4,497.4 L616.3,508.9 L617.1,480.8 L618.0,466.3 L618.9,490.7 L619.8,361.9 L620.6,497.6 L621.5,495.0 L622.4,486.5 L623.2,461.2 L624.1,486.4 L625.0,463.3 L625.9,483.3 L626.7,496.8 L627.6,513.0 L628.5,485.5 L629.4,494.2 L630.2,460.8 L631.1,469.2 L632.0,506.3 L632.8,462.0 L633.7,467.6 L634.6,523.4 L635.5,495.7 L636.3,472.8 L637.2,517.0 L638.1,490.1 L639.0,467.8 L639.8,472.7 L640.7,469.1 L641.6,466.2 L642.4,492.8 L643.3,434.5 L644.2,467.7 L645.1,438.9 L645.9,481.7 L646.8,467.0 L647.7,438.9 L648.6,479.6 L649.4,471.3 L650.3,472.3 L651.2,462.4 L652.0,471.2 L652.9,475.8 L653.8,468.2 L654.7,451.1 L655.5,475.5 L656.4,510.6 L657.3,474.3 L658.2,511.6 L659.0,492.7 L659.9,493.0 L660.8,438.9 L661.6,487.7 L662.5,508.0 L663.4,471.8 L664.3,486.1 L665.1,454.8 L666.0,469.7 L666.9,499.1 L667.7,480.4 L668.6,475.7 L669.5,488.5 L670.4,482.9 L671.2,495.6 L672.1,489.4 L673.0,471.5 L673.9,482.3 L674.7,455.0 L675.6,513.8 L676.5,490.4 L677.3,482.9 L678.2,450.1 L679.1,456.6 L680.0,510.6 L680.8,459.0 L681.7,429.4 L682.6,464.3 L683.5,480.4 L684.3,473.0 L685.2,489.0 L686.1,480.2 L686.9,520.2 L687.8,485.0 L688.7,474.3 L689.6,483.8 L690.4,499.4 L691.3,501.5 L692.2,463.9 L693.0,445.6 L693.9,461.4 L694.8,477.9 L695.7,476.3 L696.5,471.4 L697.4,482.0 L698.3,454.9 L699.2,502.0" stroke="#777" stroke-width="0.9" fill="none"/>
<g fill="#000">
<rect x="360.0" y="465.9" width="3" height="3"/>
<rect x="360.9" y="435.8" width="3" height="3"/>
<rect x="361.7" y="480.6" width="3" height="3"/>
<rect x="362.6" y="500.4" width="3" height="3"/>
<rect x="363.5" y="461.4" width="3" height="3"/>
<rect x="364.4" y="425.9" width="3" height="3"/>
<rect x="365.2" y="459.9" width="3" height="3"/>
<rect x="366.1" y="457.8" width="3" height="3"/>
<rect x="367.0" y="470.4" width="3" height="3"/>
<rect x="367.9" y="480.2" width="3" height="3"/>
<rect x="368.7" y="483.8" width="3" height="3"/>
<rect x="369.6" y="473.9" width="3" height="3"/>
<rect x="370.5" y="509.1" width="3" height="3"/>
<rect x="371.3" y="453.0" width="3" height="3"/>
<rect x="372.2" y="442.2" width="3" height="3"/>
<rect x="373.1" y="496.3" width="3" height="3"/>
<rect x="374.0" y="458.4" width="3" height="3"/>
<rect x="374.8" y="472.3" width="3" height="3"/>
<rect x="375.7" y="450.1" width="3" height="3"/>
<rect x="376.6" y="442.6" width="3" height="3"/>
<rect x="377.4" y="460.7" width="3" height="3"/>
<rect x="378.3" y="505.8" width="3" height="3"/>
<rect x="379.2" y="458.7" width="3" height="3"/>
<rect x="380.1" y="501.4" width="3" height="3"/>
<rect x="380.9" y="440.7" width="3" height="3"/>
<rect x="381.8" y="483.8" width="3" height="3"/>
<rect x="382.7" y="474.6" width="3" height="3"/>
<rect x="383.6" y="435.5" width="3" height="3"/>
<rect x="384.4" y="505.0" width="3" height="3"/>
<rect x="385.3" y="470.1" width="3" height="3"/>
<rect x="386.2" y="443.5" width="3" height="3"/>
<rect x="387.0" y="480.6" width="3" height="3"/>
<rect x="387.9" y="485.9" width="3" height="3"/>
<rect x="388.8" y="457.1" width="3" height="3"/>
<rect x="389.7" y="435.0" width="3" height="3"/>
<rect x="390.5" y="463.5" width="3" height="3"/>
<rect x="391.4" y="456.4" width="3" height="3"/>
<rect x="392.3" y="500.9" width="3" height="3"/>
<rect x="393.2" y="439.1" width="3" height="3"/>
<rect x="394.0" y="469.8" width="3" height="3"/>
<rect x="394.9" y="430.7" width="3" height="3"/>
<rect x="395.8" y="475.3" width="3" height="3"/>
<rect x="396.6" y="444.2" width="3" height="3"/>
<rect x="397.5" y="440.4" width="3" height="3"/>
<rect x="398.4" y="472.0" width="3" height="3"/>
<rect x="399.3" y="368.7" width="3" height="3"/>
<rect x="400.1" y="451.3" width="3" height="3"/>
<rect x="401.0" y="434.6" width="3" height="3"/>
<rect x="401.9" y="456.1" width="3" height="3"/>
<rect x="402.8" y="433.0" width="3" height="3"/>
<rect x="403.6" y="507.5" width="3" height="3"/>
<rect x="404.5" y="464.9" width="3" height="3"/>
<rect x="405.4" y="437.8" width="3" height="3"/>
<rect x="406.2" y="436.6" width="3" height="3"/>
<rect x="407.1" y="382.6" width="3" height="3"/>
<rect x="408.0" y="438.8" width="3" height="3"/>
<rect x="408.9" y="446.5" width="3" height="3"/>
<rect x="409.7" y="435.5" width="3" height="3"/>
<rect x="410.6" y="427.7" width="3" height="3"/>
<rect x="411.5" y="392.2" width="3" height="3"/>
<rect x="412.4" y="434.3" width="3" height="3"/>
<rect x="413.2" y="512.3" width="3" height="3"/>
<rect x="414.1" y="461.2" width="3" height="3"/>
<rect x="415.0" y="496.3" width="3" height="3"/>
<rect x="415.8" y="442.2" width="3" height="3"/>
<rect x="416.7" y="449.5" width="3" height="3"/>
<rect x="417.6" y="439.7" width="3" height="3"/>
<rect x="418.5" y="486.7" width="3" height="3"/>
<rect x="419.3" y="459.5" width="3" height="3"/>
<rect x="420.2" y="460.9" width="3" height="3"/>
<rect x="421.1" y="485.3" width="3" height="3"/>
<rect x="421.9" y="432.1" width="3" height="3"/>
<rect x="422.8" y="425.9" width="3" height="3"/>
<rect x="423.7" y="474.7" width="3" height="3"/>
<rect x="424.6" y="441.0" width="3" height="3"/>
<rect x="425.4" y="415.9" width="3" height="3"/>
<rect x="426.3" y="473.4" width="3" height="3"/>
<rect x="427.2" y="430.2" width="3" height="3"/>
<rect x="428.1" y="418.4" width="3" height="3"/>
<rect x="428.9" y="412.9" width="3" height="3"/>
<rect x="429.8" y="476.2" width="3" height="3"/>
<rect x="430.7" y="385.0" width="3" height="3"/>
<rect x="431.5" y="445.3" width="3" height="3"/>
<rect x="432.4" y="425.7" width="3" height="3"/>
<rect x="433.3" y="474.0" width="3" height="3"/>
<rect x="434.2" y="464.0" width="3" height="3"/>
<rect x="435.0" y="472.6" width="3" height="3"/>
<rect x="435.9" y="430.4" width="3" height="3"/>
<rect x="436.8" y="506.7" width="3" height="3"/>
<rect x="437.7" y="443.7" width="3" height="3"/>
<rect x="438.5" y="443.8" width="3" height="3"/>
<rect x="439.4" y="435.1" width="3" height="3"/>
<rect x="440.3" y="451.1" width="3" height="3"/>
<rect x="441.1" y="454.1" width="3" height="3"/>
<rect x="442.0" y="439.4" width="3" height="3"/>
<rect x="442.9" y="454.3" width="3" height="3"/>
<rect x="443.8" y="488.9" width="3" height="3"/>
<rect x="444.6" y="475.2" width="3" height="3"/>
<rect x="445.5" y="447.3" width="3" height="3"/>
<rect x="446.4" y="462.8" width="3" height="3"/>
<rect x="447.2" y="472.6" width="3" height="3"/>
<rect x="448.1" y="462.3" width="3" height="3"/>
<rect x="449.0" y="408.2" width="3" height="3"/>
<rect x="449.9" y="468.6" width="3" height="3"/>
<rect x="450.7" y="459.4" width="3" height="3"/>
<rect x="451.6" y="460.4" width="3" height="3"/>
<rect x="452.5" y="410.3" width="3" height="3"/>
<rect x="453.4" y="448.8" width="3" height="3"/>
<rect x="454.2" y="455.7" width="3" height="3"/>
<rect x="455.1" y="515.5" width="3" height="3"/>
<rect x="456.0" y="497.3" width="3" height="3"/>
<rect x="456.8" y="451.0" width="3" height="3"/>
<rect x="457.7" y="460.8" width="3" height="3"/>
<rect x="458.6" y="477.0" width="3" height="3"/>
<rect x="459.5" y="521.9" width="3" height="3"/>
<rect x="460.3" y="478.2" width="3" height="3"/>
<rect x="461.2" y="500.0" width="3" height="3"/>
<rect x="462.1" y="483.0" width="3" height="3"/>
<rect x="463.0" y="489.0" width="3" height="3"/>
<rect x="463.8" y="495.6" width="3" height="3"/>
<rect x="464.7" y="463.1" width="3" height="3"/>
<rect x="465.6" y="479.9" width="3" height="3"/>
<rect x="466.4" y="460.1" width="3" height="3"/>
<rect x="467.3" y="500.3" width="3" height="3"/>
<rect x="468.2" y="407.1" width="3" height="3"/>
<rect x="469.1" y="459.2" width="3" height="3"/>
<rect x="469.9" y="478.4" width="3" height="3"/>
<rect x="470.8" y="497.9" width="3" height="3"/>
<rect x="471.7" y="501.4" width="3" height="3"/>
<rect x="472.6" y="496.5" width="3" height="3"/>
<rect x="473.4" y="487.8" width="3" height="3"/>
<rect x="474.3" y="474.3" width="3" height="3"/>
<rect x="475.2" y="484.6" width="3" height="3"/>
<rect x="476.0" y="474.1" width="3" height="3"/>
<rect x="476.9" y="473.0" width="3" height="3"/>
<rect x="477.8" y="486.5" width="3" height="3"/>
<rect x="478.7" y="465.8" width="3" height="3"/>
<rect x="479.5" y="476.3" width="3" height="3"/>
<rect x="480.4" y="513.9" width="3" height="3"/>
<rect x="481.3" y="493.6" width="3" height="3"/>
<rect x="482.1" y="491.4" width="3" height="3"/>
<rect x="483.0" y="503.5" width="3" height="3"/>
<rect x="483.9" y="513.4" width="3" height="3"/>
<rect x="484.8" y="487.5" width="3" height="3"/>
<rect x="485.6" y="496.5" width="3" height="3"/>
<rect x="486.5" y="475.7" width="3" height="3"/>
<rect x="487.4" y="496.1" width="3" height="3"/>
<rect x="488.3" y="482.6" width="3" height="3"/>
<rect x="489.1" y="479.8" width="3" height="3"/>
<rect x="490.0" y="491.0" width="3" height="3"/>
<rect x="490.9" y="478.0" width="3" height="3"/>
<rect x="491.7" y="494.5" width="3" height="3"/>
<rect x="492.6" y="489.0" width="3" height="3"/>
<rect x="493.5" y="466.7" width="3" height="3"/>
<rect x="494.4" y="474.0" width="3" height="3"/>
<rect x="495.2" y="481.0" width="3" height="3"/>
<rect x="496.1" y="495.1" width="3" height="3"/>
<rect x="497.0" y="468.2" width="3" height="3"/>
<rect x="497.9" y="437.4" width="3" height="3"/>
<rect x="498.7" y="519.9" width="3" height="3"/>
<rect x="499.6" y="461.4" width="3" height="3"/>
<rect x="500.5" y="518.7" width="3" height="3"/>
<rect x="501.3" y="460.4" width="3" height="3"/>
<rect x="502.2" y="459.0" width="3" height="3"/>
<rect x="503.1" y="498.4" width="3" height="3"/>
<rect x="504.0" y="448.5" width="3" height="3"/>
<rect x="504.8" y="491.1" width="3" height="3"/>
<rect x="505.7" y="485.3" width="3" height="3"/>
<rect x="506.6" y="469.8" width="3" height="3"/>
<rect x="507.5" y="483.1" width="3" height="3"/>
<rect x="508.3" y="477.1" width="3" height="3"/>
<rect x="509.2" y="491.7" width="3" height="3"/>
<rect x="510.1" y="501.5" width="3" height="3"/>
<rect x="510.9" y="482.9" width="3" height="3"/>
<rect x="511.8" y="503.3" width="3" height="3"/>
<rect x="512.7" y="459.7" width="3" height="3"/>
<rect x="513.6" y="480.0" width="3" height="3"/>
<rect x="514.4" y="459.4" width="3" height="3"/>
<rect x="515.3" y="507.7" width="3" height="3"/>
<rect x="516.2" y="521.9" width="3" height="3"/>
<rect x="517.0" y="521.9" width="3" height="3"/>
<rect x="517.9" y="493.2" width="3" height="3"/>
<rect x="518.8" y="510.1" width="3" height="3"/>
<rect x="519.7" y="430.7" width="3" height="3"/>
<rect x="520.5" y="514.0" width="3" height="3"/>
<rect x="521.4" y="513.1" width="3" height="3"/>
<rect x="522.3" y="512.3" width="3" height="3"/>
<rect x="523.2" y="494.7" width="3" height="3"/>
<rect x="524.0" y="475.1" width="3" height="3"/>
<rect x="524.9" y="472.5" width="3" height="3"/>
<rect x="525.8" y="480.5" width="3" height="3"/>
<rect x="526.6" y="421.7" width="3" height="3"/>
<rect x="527.5" y="502.2" width="3" height="3"/>
<rect x="528.4" y="445.3" width="3" height="3"/>
<rect x="529.3" y="490.2" width="3" height="3"/>
<rect x="530.1" y="480.6" width="3" height="3"/>
<rect x="531.0" y="483.4" width="3" height="3"/>
<rect x="531.9" y="485.9" width="3" height="3"/>
<rect x="532.8" y="488.3" width="3" height="3"/>
<rect x="533.6" y="495.2" width="3" height="3"/>
<rect x="534.5" y="494.2" width="3" height="3"/>
<rect x="535.4" y="520.3" width="3" height="3"/>
<rect x="536.2" y="452.7" width="3" height="3"/>
<rect x="537.1" y="483.9" width="3" height="3"/>
<rect x="538.0" y="504.7" width="3" height="3"/>
<rect x="538.9" y="470.7" width="3" height="3"/>
<rect x="539.7" y="467.0" width="3" height="3"/>
<rect x="540.6" y="504.2" width="3" height="3"/>
<rect x="541.5" y="486.5" width="3" height="3"/>
<rect x="542.4" y="449.2" width="3" height="3"/>
<rect x="543.2" y="465.4" width="3" height="3"/>
<rect x="544.1" y="417.0" width="3" height="3"/>
<rect x="545.0" y="455.3" width="3" height="3"/>
<rect x="545.8" y="474.7" width="3" height="3"/>
<rect x="546.7" y="476.7" width="3" height="3"/>
<rect x="547.6" y="441.6" width="3" height="3"/>
<rect x="548.5" y="473.8" width="3" height="3"/>
<rect x="549.3" y="471.9" width="3" height="3"/>
<rect x="550.2" y="459.0" width="3" height="3"/>
<rect x="551.1" y="470.0" width="3" height="3"/>
<rect x="552.0" y="492.9" width="3" height="3"/>
<rect x="552.8" y="436.5" width="3" height="3"/>
<rect x="553.7" y="472.0" width="3" height="3"/>
<rect x="554.6" y="438.3" width="3" height="3"/>
<rect x="555.4" y="461.6" width="3" height="3"/>
<rect x="556.3" y="487.3" width="3" height="3"/>
<rect x="557.2" y="443.0" width="3" height="3"/>
<rect x="558.1" y="474.1" width="3" height="3"/>
<rect x="558.9" y="486.5" width="3" height="3"/>
<rect x="559.8" y="471.6" width="3" height="3"/>
<rect x="560.7" y="509.8" width="3" height="3"/>
<rect x="561.5" y="463.8" width="3" height="3"/>
<rect x="562.4" y="513.4" width="3" height="3"/>
<rect x="563.3" y="475.8" width="3" height="3"/>
<rect x="564.2" y="487.4" width="3" height="3"/>
<rect x="565.0" y="459.1" width="3" height="3"/>
<rect x="565.9" y="464.9" width="3" height="3"/>
<rect x="566.8" y="451.9" width="3" height="3"/>
<rect x="567.7" y="441.4" width="3" height="3"/>
<rect x="568.5" y="466.4" width="3" height="3"/>
<rect x="569.4" y="469.9" width="3" height="3"/>
<rect x="570.3" y="466.1" width="3" height="3"/>
<rect x="571.1" y="486.3" width="3" height="3"/>
<rect x="572.0" y="416.4" width="3" height="3"/>
<rect x="572.9" y="458.1" width="3" height="3"/>
<rect x="573.8" y="487.3" width="3" height="3"/>
<rect x="574.6" y="506.8" width="3" height="3"/>
<rect x="575.5" y="478.2" width="3" height="3"/>
<rect x="576.4" y="467.3" width="3" height="3"/>
<rect x="577.3" y="445.4" width="3" height="3"/>
<rect x="578.1" y="484.9" width="3" height="3"/>
<rect x="579.0" y="489.5" width="3" height="3"/>
<rect x="579.9" y="471.6" width="3" height="3"/>
<rect x="580.7" y="476.8" width="3" height="3"/>
<rect x="581.6" y="470.1" width="3" height="3"/>
<rect x="582.5" y="484.6" width="3" height="3"/>
<rect x="583.4" y="472.3" width="3" height="3"/>
<rect x="584.2" y="487.0" width="3" height="3"/>
<rect x="585.1" y="459.4" width="3" height="3"/>
<rect x="586.0" y="472.8" width="3" height="3"/>
<rect x="586.9" y="468.2" width="3" height="3"/>
<rect x="587.7" y="487.0" width="3" height="3"/>
<rect x="588.6" y="505.6" width="3" height="3"/>
<rect x="589.5" y="480.2" width="3" height="3"/>
<rect x="590.3" y="482.0" width="3" height="3"/>
<rect x="591.2" y="461.9" width="3" height="3"/>
<rect x="592.1" y="464.9" width="3" height="3"/>
<rect x="593.0" y="483.6" width="3" height="3"/>
<rect x="593.8" y="484.4" width="3" height="3"/>
<rect x="594.7" y="432.7" width="3" height="3"/>
<rect x="595.6" y="485.7" width="3" height="3"/>
<rect x="596.4" y="480.6" width="3" height="3"/>
<rect x="597.3" y="427.9" width="3" height="3"/>
<rect x="598.2" y="503.0" width="3" height="3"/>
<rect x="599.1" y="460.0" width="3" height="3"/>
<rect x="599.9" y="521.0" width="3" height="3"/>
<rect x="600.8" y="452.3" width="3" height="3"/>
<rect x="601.7" y="460.3" width="3" height="3"/>
<rect x="602.6" y="453.3" width="3" height="3"/>
<rect x="603.4" y="495.9" width="3" height="3"/>
<rect x="604.3" y="468.9" width="3" height="3"/>
<rect x="605.2" y="504.7" width="3" height="3"/>
<rect x="606.0" y="485.7" width="3" height="3"/>
<rect x="606.9" y="517.9" width="3" height="3"/>
<rect x="607.8" y="440.3" width="3" height="3"/>
<rect x="608.7" y="486.8" width="3" height="3"/>
<rect x="609.5" y="460.1" width="3" height="3"/>
<rect x="610.4" y="457.4" width="3" height="3"/>
<rect x="611.3" y="483.0" width="3" height="3"/>
<rect x="612.2" y="481.0" width="3" height="3"/>
<rect x="613.0" y="492.3" width="3" height="3"/>
<rect x="613.9" y="495.9" width="3" height="3"/>
<rect x="614.8" y="507.4" width="3" height="3"/>
<rect x="615.6" y="479.3" width="3" height="3"/>
<rect x="616.5" y="464.8" width="3" height="3"/>
<rect x="617.4" y="489.2" width="3" height="3"/>
<rect x="618.3" y="360.4" width="3" height="3"/>
<rect x="619.1" y="496.1" width="3" height="3"/>
<rect x="620.0" y="493.5" width="3" height="3"/>
<rect x="620.9" y="485.0" width="3" height="3"/>
<rect x="621.8" y="459.7" width="3" height="3"/>
<rect x="622.6" y="484.9" width="3" height="3"/>
<rect x="623.5" y="461.8" width="3" height="3"/>
<rect x="624.4" y="481.8" width="3" height="3"/>
<rect x="625.2" y="495.3" width="3" height="3"/>
<rect x="626.1" y="511.5" width="3" height="3"/>
<rect x="627.0" y="484.0" width="3" height="3"/>
<rect x="627.9" y="492.7" width="3" height="3"/>
<rect x="628.7" y="459.3" width="3" height="3"/>
<rect x="629.6" y="467.7" width="3" height="3"/>
<rect x="630.5" y="504.8" width="3" height="3"/>
<rect x="631.3" y="460.5" width="3" height="3"/>
<rect x="632.2" y="466.1" width="3" height="3"/>
<rect x="633.1" y="521.9" width="3" height="3"/>
<rect x="634.0" y="494.2" width="3" height="3"/>
<rect x="634.8" y="471.3" width="3" height="3"/>
<rect x="635.7" y="515.5" width="3" height="3"/>
<rect x="636.6" y="488.6" width="3" height="3"/>
<rect x="637.5" y="466.3" width="3" height="3"/>
<rect x="638.3" y="471.2" width="3" height="3"/>
<rect x="639.2" y="467.6" width="3" height="3"/>
<rect x="640.1" y="464.7" width="3" height="3"/>
<rect x="640.9" y="491.3" width="3" height="3"/>
<rect x="641.8" y="433.0" width="3" height="3"/>
<rect x="642.7" y="466.2" width="3" height="3"/>
<rect x="643.6" y="437.4" width="3" height="3"/>
<rect x="644.4" y="480.2" width="3" height="3"/>
<rect x="645.3" y="465.5" width="3" height="3"/>
<rect x="646.2" y="437.4" width="3" height="3"/>
<rect x="647.1" y="478.1" width="3" height="3"/>
<rect x="647.9" y="469.8" width="3" height="3"/>
<rect x="648.8" y="470.8" width="3" height="3"/>
<rect x="649.7" y="460.9" width="3" height="3"/>
<rect x="650.5" y="469.7" width="3" height="3"/>
<rect x="651.4" y="474.3" width="3" height="3"/>
<rect x="652.3" y="466.7" width="3" height="3"/>
<rect x="653.2" y="449.6" width="3" height="3"/>
<rect x="654.0" y="474.0" width="3" height="3"/>
<rect x="654.9" y="509.1" width="3" height="3"/>
<rect x="655.8" y="472.8" width="3" height="3"/>
<rect x="656.7" y="510.1" width="3" height="3"/>
<rect x="657.5" y="491.2" width="3" height="3"/>
<rect x="658.4" y="491.5" width="3" height="3"/>
<rect x="659.3" y="437.4" width="3" height="3"/>
<rect x="660.1" y="486.2" width="3" height="3"/>
<rect x="661.0" y="506.5" width="3" height="3"/>
<rect x="661.9" y="470.3" width="3" height="3"/>
<rect x="662.8" y="484.6" width="3" height="3"/>
<rect x="663.6" y="453.3" width="3" height="3"/>
<rect x="664.5" y="468.2" width="3" height="3"/>
<rect x="665.4" y="497.6" width="3" height="3"/>
<rect x="666.2" y="478.9" width="3" height="3"/>
<rect x="667.1" y="474.2" width="3" height="3"/>
<rect x="668.0" y="487.0" width="3" height="3"/>
<rect x="668.9" y="481.4" width="3" height="3"/>
<rect x="669.7" y="494.1" width="3" height="3"/>
<rect x="670.6" y="487.9" width="3" height="3"/>
<rect x="671.5" y="470.0" width="3" height="3"/>
<rect x="672.4" y="480.8" width="3" height="3"/>
<rect x="673.2" y="453.5" width="3" height="3"/>
<rect x="674.1" y="512.3" width="3" height="3"/>
<rect x="675.0" y="488.9" width="3" height="3"/>
<rect x="675.8" y="481.4" width="3" height="3"/>
<rect x="676.7" y="448.6" width="3" height="3"/>
<rect x="677.6" y="455.1" width="3" height="3"/>
<rect x="678.5" y="509.1" width="3" height="3"/>
<rect x="679.3" y="457.5" width="3" height="3"/>
<rect x="680.2" y="427.9" width="3" height="3"/>
<rect x="681.1" y="462.8" width="3" height="3"/>
<rect x="682.0" y="478.9" width="3" height="3"/>
<rect x="682.8" y="471.5" width="3" height="3"/>
<rect x="683.7" y="487.5" width="3" height="3"/>
<rect x="684.6" y="478.7" width="3" height="3"/>
<rect x="685.4" y="518.7" width="3" height="3"/>
<rect x="686.3" y="483.5" width="3" height="3"/>
<rect x="687.2" y="472.8" width="3" height="3"/>
<rect x="688.1" y="482.3" width="3" height="3"/>
<rect x="688.9" y="497.9" width="3" height="3"/>
<rect x="689.8" y="500.0" width="3" height="3"/>
<rect x="690.7" y="462.4" width="3" height="3"/>
<rect x="691.5" y="444.1" width="3" height="3"/>
<rect x="692.4" y="459.9" width="3" height="3"/>
<rect x="693.3" y="476.4" width="3" height="3"/>
<rect x="694.2" y="474.8" width="3" height="3"/>
<rect x="695.0" y="469.9" width="3" height="3"/>
<rect x="695.9" y="480.5" width="3" height="3"/>
<rect x="696.8" y="453.4" width="3" height="3"/>
<rect x="697.7" y="500.5" width="3" height="3"/>
</g>
</svg></body></html>
